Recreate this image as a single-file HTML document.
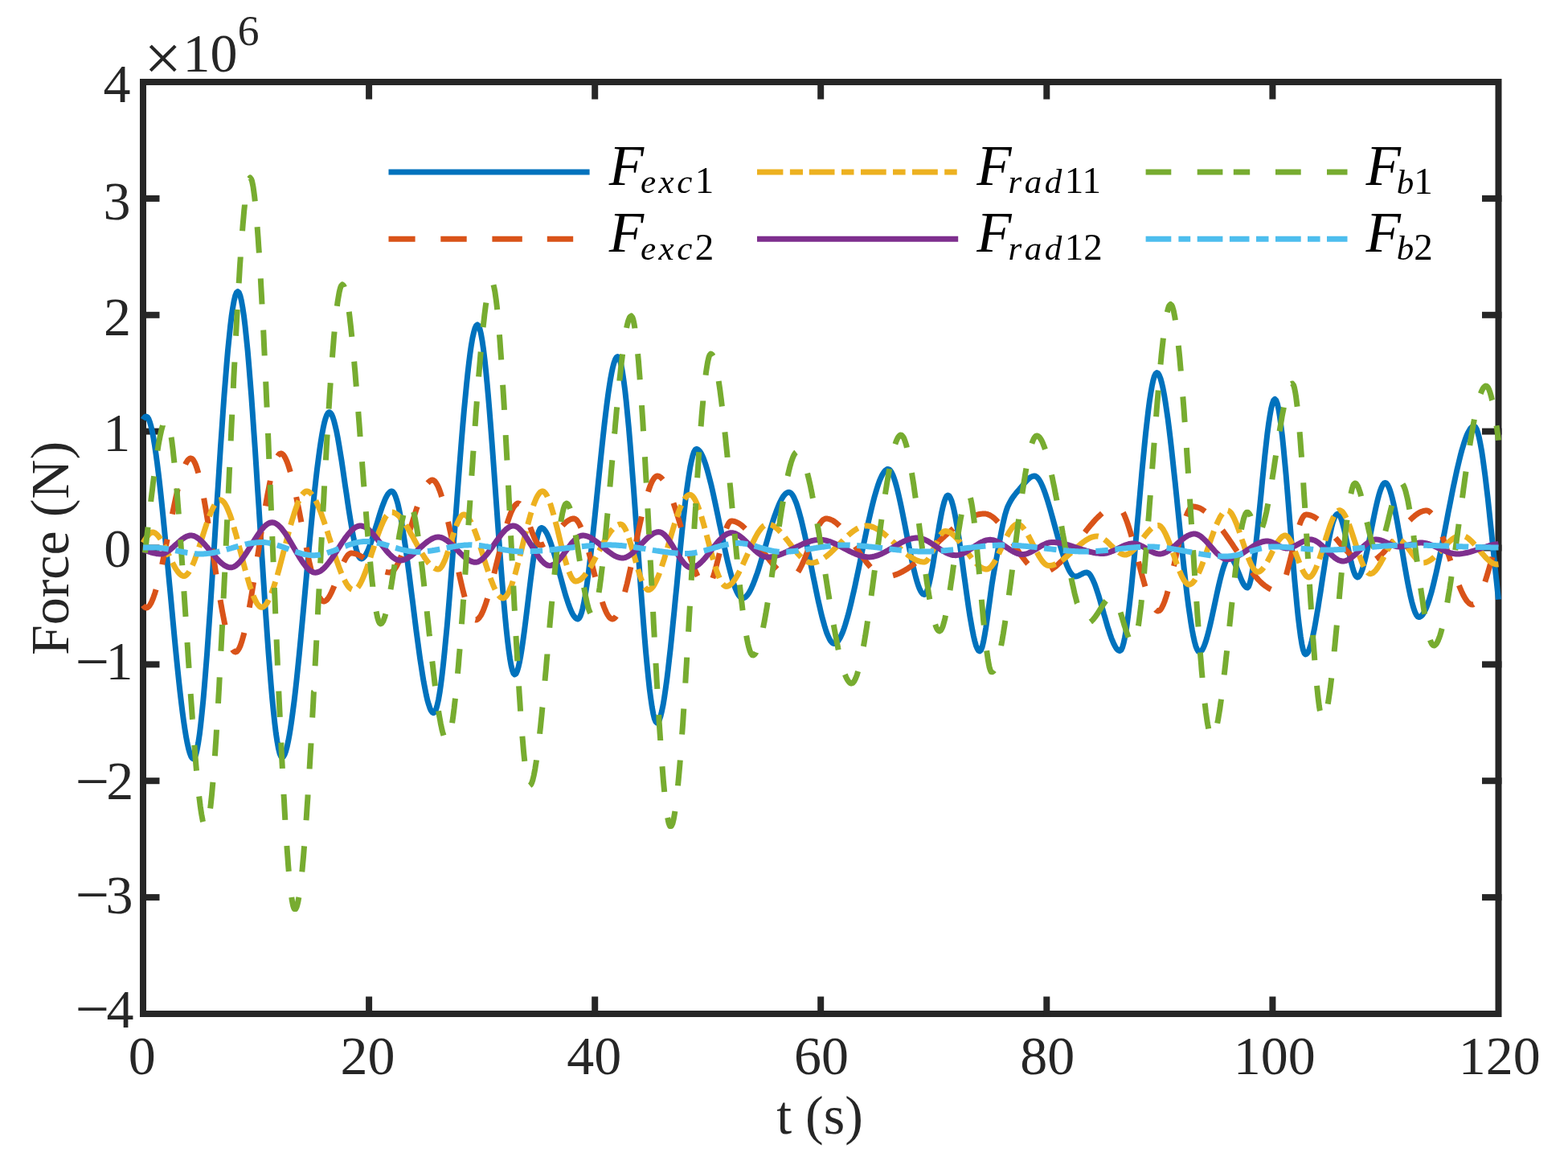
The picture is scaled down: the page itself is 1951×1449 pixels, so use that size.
<!DOCTYPE html>
<html><head><meta charset="utf-8"><title>Force vs time</title>
<style>html,body{margin:0;padding:0;background:#fff;}svg{display:block;}</style>
</head><body><svg width="1951" height="1449" viewBox="0 0 1951 1449"><g stroke="#262626" stroke-width="8" fill="none" stroke-linecap="square"><rect x="178.0" y="102.0" width="1686.5" height="1159.0"/><line x1="459.1" y1="1261.0" x2="459.1" y2="1243.5"/><line x1="459.1" y1="102.0" x2="459.1" y2="119.5"/><line x1="740.2" y1="1261.0" x2="740.2" y2="1243.5"/><line x1="740.2" y1="102.0" x2="740.2" y2="119.5"/><line x1="1021.2" y1="1261.0" x2="1021.2" y2="1243.5"/><line x1="1021.2" y1="102.0" x2="1021.2" y2="119.5"/><line x1="1302.3" y1="1261.0" x2="1302.3" y2="1243.5"/><line x1="1302.3" y1="102.0" x2="1302.3" y2="119.5"/><line x1="1583.4" y1="1261.0" x2="1583.4" y2="1243.5"/><line x1="1583.4" y1="102.0" x2="1583.4" y2="119.5"/><line x1="178.0" y1="246.9" x2="194.5" y2="246.9"/><line x1="1864.5" y1="246.9" x2="1848.0" y2="246.9"/><line x1="178.0" y1="391.8" x2="194.5" y2="391.8"/><line x1="1864.5" y1="391.8" x2="1848.0" y2="391.8"/><line x1="178.0" y1="536.6" x2="194.5" y2="536.6"/><line x1="1864.5" y1="536.6" x2="1848.0" y2="536.6"/><line x1="178.0" y1="681.5" x2="194.5" y2="681.5"/><line x1="1864.5" y1="681.5" x2="1848.0" y2="681.5"/><line x1="178.0" y1="826.4" x2="194.5" y2="826.4"/><line x1="1864.5" y1="826.4" x2="1848.0" y2="826.4"/><line x1="178.0" y1="971.2" x2="194.5" y2="971.2"/><line x1="1864.5" y1="971.2" x2="1848.0" y2="971.2"/><line x1="178.0" y1="1116.1" x2="194.5" y2="1116.1"/><line x1="1864.5" y1="1116.1" x2="1848.0" y2="1116.1"/></g><g fill="none" stroke-width="7" stroke-linejoin="round"><path stroke="#0072BD" d="M178.0 521.8L178.9 520.3 180.4 518.6 182.0 518.0 183.5 518.8 185.0 521.2 186.5 525.2 188.0 530.5 189.5 537.2 191.0 545.1 192.5 554.2 194.0 564.4 195.5 575.6 197.0 587.6 198.5 600.5 200.0 614.1 201.5 628.4 203.0 643.2 204.5 658.5 206.0 674.2 207.5 690.2 209.0 706.4 210.5 722.7 212.1 739.1 213.6 755.4 215.1 771.6 216.6 787.6 218.1 803.3 219.6 818.6 221.1 833.4 222.6 847.7 224.1 861.3 225.6 874.2 227.1 886.2 228.6 897.4 230.1 907.6 231.6 916.7 233.1 924.6 234.6 931.3 236.1 936.6 237.6 940.6 239.1 943.0 240.6 943.8 242.1 942.5 243.7 938.6 245.2 932.4 246.7 923.9 248.3 913.3 249.8 900.7 251.3 886.4 252.9 870.5 254.4 853.0 255.9 834.2 257.5 814.2 259.0 793.1 260.5 771.2 262.1 748.5 263.6 725.2 265.1 701.4 266.7 677.4 268.2 653.2 269.7 629.0 271.3 605.0 272.8 581.2 274.3 557.9 275.9 535.2 277.4 513.3 278.9 492.2 280.5 472.2 282.0 453.4 283.5 435.9 285.1 420.0 286.6 405.7 288.1 393.1 289.7 382.5 291.2 374.0 292.7 367.8 294.3 363.9 295.8 362.6 297.3 363.9 298.9 367.8 300.4 374.0 301.9 382.5 303.5 393.0 305.0 405.5 306.5 419.8 308.1 435.7 309.6 453.1 311.1 471.9 312.7 491.8 314.2 512.8 315.7 534.7 317.3 557.3 318.8 580.5 320.3 604.2 321.9 628.2 323.4 652.3 324.9 676.4 326.5 700.4 328.0 724.1 329.5 747.3 331.1 769.9 332.6 791.8 334.1 812.8 335.7 832.7 337.2 851.5 338.7 868.9 340.3 884.8 341.8 899.1 343.3 911.6 344.9 922.1 346.4 930.6 347.9 936.8 349.5 940.7 351.0 942.0 352.5 941.2 354.0 938.7 355.5 934.8 357.0 929.4 358.5 922.6 360.0 914.6 361.5 905.5 363.0 895.2 364.5 884.0 366.1 871.8 367.6 858.8 369.1 845.1 370.6 830.7 372.1 815.8 373.6 800.3 375.1 784.5 376.6 768.4 378.1 752.1 379.6 735.6 381.1 719.1 382.6 702.6 384.1 686.3 385.6 670.2 387.1 654.4 388.6 638.9 390.1 624.0 391.6 609.6 393.1 595.9 394.6 582.9 396.2 570.7 397.7 559.5 399.2 549.2 400.7 540.1 402.2 532.1 403.7 525.3 405.2 519.9 406.7 516.0 408.2 513.5 409.7 512.7 411.2 513.5 412.8 515.8 414.3 519.4 415.8 524.3 417.3 530.3 418.9 537.3 420.4 545.2 421.9 553.9 423.4 563.1 425.0 572.9 426.5 583.0 428.0 593.4 429.5 603.9 431.1 614.3 432.6 624.7 434.1 634.8 435.7 644.6 437.2 653.8 438.7 662.5 440.2 670.4 441.8 677.4 443.3 683.4 444.8 688.3 446.3 691.9 447.9 694.2 449.4 695.0 450.9 694.6 452.4 693.5 454.0 691.7 455.5 689.2 457.0 686.3 458.5 682.8 460.0 678.9 461.6 674.7 463.1 670.2 464.6 665.4 466.1 660.5 467.6 655.5 469.2 650.5 470.7 645.5 472.2 640.6 473.7 635.8 475.2 631.3 476.8 627.1 478.3 623.2 479.8 619.7 481.3 616.8 482.8 614.3 484.4 612.5 485.9 611.4 487.4 611.0 488.9 611.7 490.5 613.8 492.0 617.1 493.5 621.6 495.1 627.1 496.6 633.7 498.1 641.3 499.7 649.6 501.2 658.7 502.7 668.5 504.3 678.9 505.8 689.8 507.3 701.1 508.9 712.8 510.4 724.7 511.9 736.7 513.5 748.9 515.0 761.1 516.5 773.1 518.0 785.0 519.6 796.7 521.1 808.0 522.6 818.9 524.2 829.3 525.7 839.1 527.2 848.2 528.8 856.5 530.3 864.1 531.8 870.7 533.4 876.2 534.9 880.7 536.4 884.0 538.0 886.1 539.5 886.8 541.0 885.7 542.5 882.5 544.0 877.3 545.6 870.2 547.1 861.4 548.6 851.0 550.1 839.1 551.6 825.9 553.1 811.3 554.6 795.7 556.2 779.1 557.7 761.6 559.2 743.4 560.7 724.5 562.2 705.2 563.7 685.4 565.2 665.5 566.8 645.3 568.3 625.2 569.8 605.3 571.3 585.5 572.8 566.2 574.3 547.3 575.8 529.1 577.3 511.6 578.9 495.0 580.4 479.4 581.9 464.8 583.4 451.6 584.9 439.7 586.4 429.3 587.9 420.5 589.5 413.4 591.0 408.2 592.5 405.0 594.0 403.9 595.5 405.2 597.0 409.1 598.5 415.3 600.0 423.8 601.5 434.2 603.0 446.5 604.5 460.4 606.0 475.9 607.5 492.6 609.0 510.5 610.5 529.4 612.0 549.0 613.5 569.3 615.0 590.0 616.5 610.9 618.0 632.0 619.5 652.9 621.0 673.6 622.5 693.9 624.0 713.5 625.5 732.4 627.0 750.3 628.5 767.0 630.0 782.5 631.5 796.4 633.0 808.7 634.5 819.1 636.0 827.6 637.5 833.8 639.0 837.7 640.5 839.0 642.0 837.9 643.5 834.7 645.0 829.7 646.5 823.1 648.0 815.0 649.5 805.7 651.0 795.3 652.5 784.2 654.0 772.4 655.5 760.2 657.0 747.8 658.5 735.3 660.0 723.1 661.5 711.3 663.0 700.2 664.5 689.8 666.0 680.5 667.5 672.4 669.0 665.8 670.5 660.8 672.0 657.6 673.5 656.5 675.0 656.9 676.5 657.9 678.0 659.7 679.6 662.0 681.1 664.9 682.6 668.3 684.1 672.2 685.6 676.4 687.1 681.0 688.7 685.9 690.2 691.1 691.7 696.5 693.2 702.0 694.7 707.6 696.2 713.2 697.8 718.9 699.3 724.5 700.8 730.0 702.3 735.4 703.8 740.6 705.4 745.5 706.9 750.1 708.4 754.3 709.9 758.2 711.4 761.6 712.9 764.5 714.5 766.8 716.0 768.6 717.5 769.6 719.0 770.0 720.5 769.1 722.0 766.5 723.5 762.4 725.0 756.8 726.5 749.8 728.0 741.6 729.5 732.2 731.0 721.8 732.5 710.4 734.0 698.2 735.5 685.4 737.0 671.9 738.5 657.9 740.0 643.6 741.5 629.0 743.0 614.2 744.5 599.4 746.0 584.6 747.5 570.0 749.0 555.7 750.5 541.7 752.0 528.2 753.5 515.4 755.0 503.2 756.5 491.8 758.0 481.4 759.5 472.0 761.0 463.8 762.5 456.8 764.0 451.2 765.5 447.1 767.0 444.5 768.5 443.6 770.0 444.9 771.6 448.7 773.1 454.9 774.6 463.2 776.1 473.5 777.7 485.6 779.2 499.4 780.7 514.8 782.3 531.4 783.8 549.2 785.3 568.0 786.8 587.7 788.4 608.0 789.9 628.8 791.4 650.0 793.0 671.3 794.5 692.6 796.0 713.8 797.5 734.6 799.1 754.9 800.6 774.6 802.1 793.4 803.6 811.2 805.2 827.8 806.7 843.2 808.2 857.0 809.8 869.1 811.3 879.4 812.8 887.7 814.3 893.9 815.9 897.7 817.4 899.0 818.9 898.0 820.5 895.2 822.0 890.6 823.5 884.4 825.1 876.7 826.6 867.6 828.1 857.2 829.7 845.8 831.2 833.3 832.7 820.0 834.3 806.0 835.8 791.3 837.3 776.1 838.9 760.5 840.4 744.7 842.0 728.8 843.5 712.8 845.0 697.0 846.6 681.4 848.1 666.2 849.6 651.5 851.2 637.5 852.7 624.2 854.2 611.7 855.8 600.3 857.3 589.9 858.8 580.8 860.4 573.1 861.9 566.9 863.4 562.3 865.0 559.5 866.5 558.5 868.0 558.9 869.5 560.0 871.0 561.8 872.6 564.2 874.1 567.3 875.6 570.9 877.1 575.1 878.6 579.7 880.1 584.8 881.6 590.3 883.1 596.1 884.7 602.3 886.2 608.8 887.7 615.5 889.2 622.4 890.7 629.5 892.2 636.7 893.7 643.9 895.2 651.2 896.8 658.6 898.3 665.8 899.8 673.0 901.3 680.1 902.8 687.0 904.3 693.7 905.8 700.2 907.4 706.4 908.9 712.2 910.4 717.7 911.9 722.8 913.4 727.4 914.9 731.6 916.4 735.2 917.9 738.3 919.5 740.7 921.0 742.5 922.5 743.6 924.0 744.0 925.5 743.7 927.0 742.9 928.5 741.7 930.1 739.9 931.6 737.8 933.1 735.2 934.6 732.2 936.1 728.9 937.6 725.3 939.1 721.4 940.6 717.3 942.2 712.9 943.7 708.3 945.2 703.5 946.7 698.6 948.2 693.6 949.7 688.5 951.2 683.3 952.8 678.1 954.3 672.9 955.8 667.7 957.3 662.6 958.8 657.6 960.3 652.7 961.8 647.9 963.3 643.3 964.9 638.9 966.4 634.8 967.9 630.9 969.4 627.3 970.9 624.0 972.4 621.0 973.9 618.4 975.4 616.3 977.0 614.5 978.5 613.3 980.0 612.5 981.5 612.2 983.0 612.6 984.6 613.8 986.1 615.7 987.6 618.3 989.1 621.6 990.7 625.4 992.2 629.9 993.7 634.8 995.2 640.2 996.8 646.0 998.3 652.2 999.8 658.8 1001.4 665.6 1002.9 672.7 1004.4 680.0 1005.9 687.4 1007.5 694.9 1009.0 702.5 1010.5 710.2 1012.0 717.8 1013.6 725.3 1015.1 732.7 1016.6 740.0 1018.1 747.1 1019.7 753.9 1021.2 760.5 1022.7 766.7 1024.3 772.5 1025.8 777.9 1027.3 782.8 1028.8 787.3 1030.4 791.1 1031.9 794.4 1033.4 797.0 1034.9 798.9 1036.5 800.1 1038.0 800.5 1039.5 800.2 1041.0 799.2 1042.6 797.6 1044.1 795.4 1045.6 792.7 1047.1 789.5 1048.7 785.8 1050.2 781.6 1051.7 777.0 1053.2 772.0 1054.8 766.6 1056.3 760.9 1057.8 754.9 1059.3 748.6 1060.8 742.0 1062.4 735.3 1063.9 728.4 1065.4 721.3 1066.9 714.1 1068.5 706.8 1070.0 699.4 1071.5 692.0 1073.0 684.6 1074.5 677.2 1076.1 669.9 1077.6 662.7 1079.1 655.6 1080.6 648.7 1082.2 642.0 1083.7 635.4 1085.2 629.1 1086.7 623.1 1088.2 617.4 1089.8 612.0 1091.3 607.0 1092.8 602.4 1094.3 598.2 1095.9 594.5 1097.4 591.3 1098.9 588.6 1100.4 586.4 1102.0 584.8 1103.5 583.8 1105.0 583.5 1106.5 584.0 1108.0 585.5 1109.5 587.9 1111.0 591.1 1112.5 595.1 1114.0 599.7 1115.5 605.0 1117.0 610.9 1118.5 617.2 1120.0 623.9 1121.5 631.0 1123.0 638.4 1124.5 646.0 1126.0 653.7 1127.5 661.5 1129.0 669.3 1130.5 677.0 1132.0 684.6 1133.5 692.0 1135.0 699.1 1136.5 705.8 1138.0 712.1 1139.5 718.0 1141.0 723.3 1142.5 727.9 1144.0 731.9 1145.5 735.1 1147.0 737.5 1148.5 739.0 1150.0 739.5 1151.6 738.5 1153.1 735.7 1154.7 731.2 1156.2 725.4 1157.8 718.3 1159.3 710.3 1160.9 701.6 1162.4 692.3 1164.0 682.6 1165.5 672.9 1167.1 663.2 1168.6 653.9 1170.2 645.2 1171.7 637.2 1173.3 630.1 1174.8 624.3 1176.4 619.8 1177.9 617.0 1179.5 616.0 1181.0 616.8 1182.5 619.3 1184.1 623.2 1185.6 628.4 1187.1 634.8 1188.6 642.2 1190.1 650.6 1191.7 659.8 1193.2 669.6 1194.7 680.0 1196.2 690.8 1197.7 701.8 1199.2 713.0 1200.8 724.2 1202.3 735.2 1203.8 746.0 1205.3 756.4 1206.8 766.2 1208.4 775.4 1209.9 783.8 1211.4 791.2 1212.9 797.6 1214.4 802.8 1216.0 806.7 1217.5 809.2 1219.0 810.0 1220.5 808.6 1222.1 804.6 1223.6 798.4 1225.1 790.4 1226.7 781.0 1228.2 770.6 1229.7 759.5 1231.3 748.1 1232.8 736.9 1234.3 726.1 1235.9 716.3 1237.4 707.7 1239.0 699.1 1240.7 690.1 1242.3 681.0 1244.0 672.0 1245.6 663.2 1247.2 654.8 1248.9 647.2 1250.5 640.4 1252.2 634.7 1253.8 630.3 1255.4 626.9 1257.0 623.9 1258.5 621.2 1260.1 618.8 1261.7 616.6 1263.3 614.5 1264.8 612.6 1266.4 610.8 1268.0 609.0 1269.6 607.2 1271.2 605.2 1272.8 603.3 1274.3 601.4 1275.9 599.5 1277.5 597.8 1279.1 596.2 1280.7 594.8 1282.2 593.6 1283.8 592.8 1285.4 592.2 1287.0 592.0 1288.5 592.3 1290.0 593.2 1291.5 594.7 1293.0 596.8 1294.5 599.3 1296.0 602.3 1297.5 605.7 1299.0 609.5 1300.5 613.6 1302.0 618.1 1303.5 622.8 1305.0 627.7 1306.5 632.8 1308.0 638.1 1309.5 643.5 1311.0 649.0 1312.5 654.5 1314.0 660.0 1315.5 665.5 1317.0 670.9 1318.5 676.2 1320.0 681.3 1321.5 686.2 1323.0 690.9 1324.5 695.4 1326.0 699.5 1327.5 703.3 1329.0 706.7 1330.5 709.7 1332.0 712.2 1333.5 714.3 1335.0 715.8 1336.5 716.7 1338.0 717.0 1339.6 716.8 1341.1 716.4 1342.7 715.7 1344.2 714.9 1345.8 714.1 1347.3 713.3 1348.9 712.6 1350.4 712.2 1352.0 712.0 1353.5 712.4 1355.1 713.5 1356.6 715.3 1358.1 717.8 1359.7 720.8 1361.2 724.3 1362.8 728.3 1364.3 732.6 1365.8 737.3 1367.4 742.2 1368.9 747.4 1370.4 752.7 1372.0 758.0 1373.5 763.5 1375.1 768.8 1376.6 774.1 1378.1 779.3 1379.7 784.2 1381.2 788.9 1382.7 793.2 1384.3 797.2 1385.8 800.7 1387.4 803.7 1388.9 806.2 1390.4 808.0 1392.0 809.1 1393.5 809.5 1395.0 808.4 1396.6 805.1 1398.1 799.8 1399.6 792.7 1401.2 783.9 1402.7 773.5 1404.2 761.8 1405.7 748.8 1407.3 734.8 1408.8 719.8 1410.3 704.1 1411.9 687.7 1413.4 670.9 1414.9 653.8 1416.5 636.5 1418.0 619.3 1419.5 602.2 1421.0 585.4 1422.6 569.0 1424.1 553.3 1425.6 538.3 1427.2 524.3 1428.7 511.3 1430.2 499.6 1431.8 489.2 1433.3 480.4 1434.8 473.3 1436.3 468.0 1437.9 464.7 1439.4 463.6 1440.9 464.4 1442.4 466.9 1444.0 470.8 1445.5 476.2 1447.0 482.8 1448.5 490.7 1450.0 499.7 1451.5 509.8 1453.1 520.7 1454.6 532.5 1456.1 545.0 1457.6 558.1 1459.1 571.8 1460.6 585.9 1462.2 600.3 1463.7 615.0 1465.2 629.9 1466.7 644.7 1468.2 659.6 1469.7 674.3 1471.3 688.7 1472.8 702.8 1474.3 716.5 1475.8 729.6 1477.3 742.1 1478.8 753.9 1480.4 764.8 1481.9 774.9 1483.4 783.9 1484.9 791.8 1486.4 798.4 1487.9 803.8 1489.5 807.7 1491.0 810.2 1492.5 811.0 1494.0 810.4 1495.5 808.9 1497.0 806.3 1498.5 802.9 1500.0 798.7 1501.5 793.9 1503.0 788.4 1504.5 782.5 1506.0 776.1 1507.5 769.5 1509.0 762.6 1510.5 755.5 1512.0 748.5 1513.5 741.4 1515.0 734.5 1516.5 727.9 1518.0 721.5 1519.5 715.6 1521.0 710.1 1522.5 705.3 1524.0 701.1 1525.5 697.7 1527.0 695.1 1528.5 693.6 1530.0 693.0 1531.6 693.6 1533.1 695.1 1534.7 697.5 1536.3 700.5 1537.9 704.1 1539.4 708.0 1541.0 712.0 1542.6 716.0 1544.1 719.9 1545.7 723.5 1547.3 726.5 1548.9 728.9 1550.4 730.4 1552.0 731.0 1553.6 729.6 1555.1 725.5 1556.7 719.1 1558.2 710.6 1559.8 700.2 1561.4 688.2 1562.9 674.9 1564.5 660.5 1566.0 645.3 1567.6 629.7 1569.2 613.7 1570.7 597.7 1572.3 582.1 1573.8 566.9 1575.4 552.5 1576.9 539.2 1578.5 527.2 1580.1 516.8 1581.6 508.3 1583.2 501.9 1584.7 497.8 1586.3 496.4 1587.8 497.9 1589.4 502.2 1590.9 509.0 1592.4 518.2 1593.9 529.4 1595.5 542.5 1597.0 557.2 1598.5 573.2 1600.1 590.2 1601.6 608.2 1603.1 626.8 1604.6 645.7 1606.2 664.7 1607.7 683.6 1609.2 702.2 1610.7 720.2 1612.3 737.2 1613.8 753.2 1615.3 767.9 1616.9 781.0 1618.4 792.2 1619.9 801.4 1621.4 808.2 1623.0 812.5 1624.5 814.0 1626.0 813.2 1627.6 811.1 1629.1 807.5 1630.7 802.8 1632.2 797.1 1633.7 790.3 1635.3 782.8 1636.8 774.5 1638.3 765.6 1639.9 756.3 1641.4 746.5 1643.0 736.6 1644.5 726.5 1646.0 716.4 1647.6 706.5 1649.1 696.7 1650.7 687.4 1652.2 678.5 1653.7 670.2 1655.3 662.7 1656.8 655.9 1658.3 650.2 1659.9 645.5 1661.4 641.9 1663.0 639.8 1664.5 639.0 1666.0 639.9 1667.6 642.4 1669.1 646.3 1670.6 651.3 1672.2 657.3 1673.7 664.0 1675.2 671.1 1676.8 678.5 1678.3 685.9 1679.8 693.0 1681.3 699.7 1682.9 705.7 1684.4 710.7 1685.9 714.6 1687.5 717.1 1689.0 718.0 1690.5 717.4 1692.0 715.5 1693.5 712.5 1695.0 708.6 1696.5 703.8 1698.0 698.2 1699.5 692.0 1701.0 685.2 1702.5 678.1 1704.0 670.7 1705.5 663.1 1707.0 655.4 1708.5 647.8 1710.0 640.4 1711.5 633.3 1713.0 626.5 1714.5 620.3 1716.0 614.7 1717.5 609.9 1719.0 606.0 1720.5 603.0 1722.0 601.1 1723.5 600.5 1725.0 601.1 1726.5 602.9 1728.0 605.8 1729.5 609.8 1731.0 614.6 1732.5 620.2 1734.0 626.6 1735.5 633.6 1737.0 641.2 1738.5 649.2 1740.0 657.6 1741.5 666.2 1743.0 675.1 1744.5 684.0 1746.0 692.9 1747.5 701.8 1749.0 710.4 1750.5 718.8 1752.0 726.8 1753.5 734.4 1755.0 741.4 1756.5 747.8 1758.0 753.4 1759.5 758.2 1761.0 762.2 1762.5 765.1 1764.0 766.9 1765.5 767.5 1767.0 767.2 1768.6 766.1 1770.1 764.5 1771.6 762.2 1773.1 759.4 1774.7 756.0 1776.2 752.0 1777.7 747.7 1779.2 742.8 1780.8 737.5 1782.3 731.9 1783.8 725.8 1785.3 719.5 1786.9 712.8 1788.4 705.9 1789.9 698.8 1791.5 691.4 1793.0 683.9 1794.5 676.2 1796.0 668.5 1797.6 660.6 1799.1 652.7 1800.6 644.8 1802.1 636.9 1803.7 629.0 1805.2 621.3 1806.7 613.6 1808.2 606.1 1809.8 598.7 1811.3 591.6 1812.8 584.7 1814.4 578.0 1815.9 571.7 1817.4 565.6 1818.9 560.0 1820.5 554.7 1822.0 549.8 1823.5 545.5 1825.0 541.5 1826.6 538.1 1828.1 535.3 1829.6 533.0 1831.1 531.4 1832.7 530.3 1834.2 530.0 1835.7 530.9 1837.3 533.7 1838.8 538.1 1840.4 544.2 1841.9 551.6 1843.5 560.3 1845.0 570.3 1846.5 581.3 1848.1 593.2 1849.6 606.0 1851.2 619.4 1852.7 633.4 1854.2 647.8 1855.8 662.6 1857.3 677.5 1858.9 692.5 1860.4 707.4 1862.0 722.2 1863.5 736.6 1864.5 745.7"/><path stroke="#D95319" stroke-dasharray="32 32" d="M178.0 752.8L178.9 754.0 180.4 755.5 182.0 756.0 183.5 755.6 185.1 754.3 186.6 752.3 188.2 749.6 189.7 746.2 191.2 742.2 192.8 737.6 194.3 732.5 195.8 726.9 197.4 720.9 198.9 714.5 200.5 707.8 202.0 700.8 203.5 693.5 205.1 686.0 206.6 678.4 208.2 670.7 209.7 663.0 211.2 655.3 212.8 647.6 214.3 640.0 215.9 632.5 217.4 625.2 218.9 618.2 220.5 611.5 222.0 605.1 223.6 599.1 225.1 593.5 226.6 588.4 228.2 583.8 229.7 579.8 231.2 576.4 232.8 573.7 234.3 571.7 235.9 570.4 237.4 570.0 238.9 570.5 240.4 572.0 241.9 574.5 243.4 577.8 244.9 582.0 246.4 587.0 247.9 592.6 249.4 598.9 250.9 605.8 252.4 613.3 253.9 621.2 255.4 629.6 256.9 638.3 258.4 647.4 259.9 656.7 261.4 666.2 262.9 675.9 264.4 685.6 266.0 695.4 267.5 705.1 269.0 714.8 270.5 724.3 272.0 733.6 273.5 742.7 275.0 751.4 276.5 759.8 278.0 767.7 279.5 775.2 281.0 782.1 282.5 788.4 284.0 794.0 285.5 799.0 287.0 803.2 288.5 806.5 290.0 809.0 291.5 810.5 293.0 811.0 294.5 810.5 296.0 808.9 297.6 806.4 299.1 803.0 300.6 798.7 302.1 793.6 303.7 787.8 305.2 781.4 306.7 774.3 308.2 766.6 309.8 758.5 311.3 749.9 312.8 741.0 314.3 731.7 315.9 722.1 317.4 712.4 318.9 702.5 320.4 692.5 322.0 682.5 323.5 672.5 325.0 662.6 326.5 652.9 328.1 643.3 329.6 634.0 331.1 625.1 332.6 616.5 334.2 608.4 335.7 600.7 337.2 593.6 338.7 587.2 340.3 581.4 341.8 576.3 343.3 572.0 344.8 568.6 346.4 566.1 347.9 564.5 349.4 564.0 350.9 564.4 352.5 565.7 354.0 567.8 355.5 570.7 357.1 574.2 358.6 578.4 360.1 583.1 361.7 588.4 363.2 594.2 364.7 600.5 366.2 607.1 367.8 614.1 369.3 621.3 370.8 628.8 372.4 636.4 373.9 644.2 375.4 652.1 377.0 659.9 378.5 667.8 380.0 675.6 381.6 683.2 383.1 690.7 384.6 697.9 386.2 704.9 387.7 711.5 389.2 717.8 390.7 723.6 392.3 728.9 393.8 733.6 395.3 737.8 396.9 741.3 398.4 744.2 399.9 746.3 401.5 747.6 403.0 748.0 404.5 747.6 406.1 746.6 407.6 745.0 409.2 742.8 410.7 740.1 412.3 737.0 413.8 733.6 415.4 730.0 416.9 726.1 418.5 722.1 420.0 718.0 421.5 713.9 423.1 709.9 424.6 706.0 426.2 702.4 427.7 699.0 429.3 695.9 430.8 693.2 432.4 691.0 433.9 689.4 435.5 688.4 437.0 688.0 438.5 688.1 440.0 688.3 441.5 688.6 443.0 689.0 444.5 689.6 446.0 690.2 447.5 690.9 449.0 691.8 450.5 692.6 452.0 693.6 453.5 694.6 455.0 695.6 456.5 696.7 458.0 697.8 459.5 698.9 461.0 700.0 462.5 701.1 464.0 702.2 465.5 703.3 467.0 704.4 468.5 705.4 470.0 706.4 471.5 707.4 473.0 708.2 474.5 709.1 476.0 709.8 477.5 710.4 479.0 711.0 480.5 711.4 482.0 711.7 483.5 711.9 485.0 712.0 486.5 711.7 488.0 710.9 489.5 709.6 491.1 707.8 492.6 705.6 494.1 703.0 495.6 700.0 497.1 696.7 498.6 693.1 500.1 689.2 501.7 685.1 503.2 680.7 504.7 676.2 506.2 671.5 507.7 666.7 509.2 661.9 510.7 657.0 512.3 652.0 513.8 647.1 515.3 642.3 516.8 637.5 518.3 632.8 519.8 628.3 521.3 623.9 522.9 619.8 524.4 615.9 525.9 612.3 527.4 609.0 528.9 606.0 530.4 603.4 531.9 601.2 533.5 599.4 535.0 598.1 536.5 597.3 538.0 597.0 539.5 597.4 541.0 598.6 542.5 600.4 544.0 603.0 545.5 606.1 547.0 609.9 548.5 614.2 550.0 619.0 551.5 624.2 553.0 629.8 554.5 635.8 556.0 642.1 557.5 648.7 559.0 655.5 560.5 662.5 562.0 669.6 563.5 676.8 565.0 684.0 566.5 691.2 568.0 698.4 569.5 705.5 571.0 712.5 572.5 719.3 574.0 725.9 575.5 732.2 577.0 738.2 578.5 743.8 580.0 749.0 581.5 753.8 583.0 758.1 584.5 761.9 586.0 765.0 587.5 767.6 589.0 769.4 590.5 770.6 592.0 771.0 593.5 770.7 595.0 769.6 596.5 768.0 598.1 765.8 599.6 763.0 601.1 759.7 602.6 755.9 604.1 751.7 605.6 747.2 607.1 742.3 608.7 737.0 610.2 731.6 611.7 725.8 613.2 720.0 614.7 713.9 616.2 707.8 617.7 701.6 619.3 695.4 620.8 689.2 622.3 683.1 623.8 677.0 625.3 671.2 626.8 665.4 628.3 660.0 629.9 654.7 631.4 649.8 632.9 645.3 634.4 641.1 635.9 637.3 637.4 634.0 638.9 631.2 640.5 629.0 642.0 627.4 643.5 626.3 645.0 626.0 646.5 626.5 648.0 627.8 649.5 629.9 651.0 632.6 652.5 635.8 654.0 639.5 655.5 643.5 657.0 647.7 658.5 652.0 660.0 656.3 661.5 660.5 663.0 664.5 664.5 668.2 666.0 671.4 667.5 674.1 669.0 676.2 670.5 677.5 672.0 678.0 673.5 677.9 675.0 677.5 676.5 676.9 678.0 676.2 679.5 675.2 681.0 674.1 682.5 672.8 684.0 671.5 685.5 670.0 687.0 668.4 688.5 666.7 690.0 665.0 691.5 663.3 693.0 661.5 694.5 659.7 696.0 658.0 697.5 656.3 699.0 654.6 700.5 653.0 702.0 651.5 703.5 650.2 705.0 648.9 706.5 647.8 708.0 646.8 709.5 646.1 711.0 645.5 712.5 645.1 714.0 645.0 715.5 645.4 717.0 646.4 718.5 648.1 720.0 650.4 721.5 653.2 723.0 656.5 724.5 660.3 726.0 664.5 727.5 669.1 729.0 674.0 730.5 679.2 732.0 684.6 733.5 690.1 735.0 695.8 736.5 701.6 738.0 707.5 739.5 713.4 741.0 719.2 742.5 724.9 744.0 730.4 745.5 735.8 747.0 741.0 748.5 745.9 750.0 750.5 751.5 754.7 753.0 758.5 754.5 761.8 756.0 764.6 757.5 766.9 759.0 768.6 760.5 769.6 762.0 770.0 763.5 769.6 765.0 768.5 766.5 766.7 768.1 764.2 769.6 761.1 771.1 757.5 772.6 753.3 774.1 748.6 775.6 743.5 777.1 738.0 778.6 732.2 780.2 726.0 781.7 719.5 783.2 712.8 784.7 706.0 786.2 698.9 787.7 691.8 789.2 684.6 790.8 677.4 792.3 670.2 793.8 663.1 795.3 656.0 796.8 649.2 798.3 642.5 799.8 636.0 801.4 629.8 802.9 624.0 804.4 618.5 805.9 613.4 807.4 608.7 808.9 604.5 810.4 600.9 811.9 597.8 813.5 595.3 815.0 593.5 816.5 592.4 818.0 592.0 819.5 592.2 821.0 593.0 822.5 594.1 824.0 595.7 825.6 597.7 827.1 600.0 828.6 602.7 830.1 605.7 831.6 609.0 833.1 612.6 834.6 616.5 836.1 620.5 837.7 624.8 839.2 629.3 840.7 633.9 842.2 638.6 843.7 643.5 845.2 648.4 846.7 653.4 848.2 658.5 849.8 663.5 851.3 668.6 852.8 673.6 854.3 678.5 855.8 683.4 857.3 688.1 858.8 692.7 860.3 697.2 861.9 701.5 863.4 705.5 864.9 709.4 866.4 713.0 867.9 716.3 869.4 719.3 870.9 722.0 872.4 724.3 874.0 726.3 875.5 727.9 877.0 729.0 878.5 729.8 880.0 730.0 881.5 729.4 883.0 727.7 884.5 725.0 886.0 721.5 887.5 717.2 889.0 712.3 890.5 706.9 892.0 701.1 893.5 695.1 895.0 689.0 896.5 682.9 898.0 676.9 899.5 671.1 901.0 665.7 902.5 660.8 904.0 656.5 905.5 653.0 907.0 650.3 908.5 648.6 910.0 648.0 911.5 648.1 913.0 648.3 914.5 648.7 916.0 649.3 917.5 650.0 919.0 650.8 920.5 651.7 922.0 652.8 923.5 654.0 925.0 655.3 926.5 656.7 928.0 658.2 929.5 659.7 931.0 661.4 932.5 663.1 934.0 664.9 935.5 666.8 937.0 668.7 938.5 670.6 940.0 672.6 941.5 674.7 943.0 676.7 944.5 678.8 946.0 680.9 947.5 683.0 949.0 685.1 950.5 687.2 952.0 689.3 953.5 691.3 955.0 693.4 956.5 695.4 958.0 697.3 959.5 699.2 961.0 701.1 962.5 702.9 964.0 704.6 965.5 706.3 967.0 707.8 968.5 709.3 970.0 710.7 971.5 712.0 973.0 713.2 974.5 714.3 976.0 715.2 977.5 716.0 979.0 716.7 980.5 717.3 982.0 717.7 983.5 717.9 985.0 718.0 986.5 717.7 988.1 716.9 989.6 715.7 991.1 714.0 992.7 711.8 994.2 709.4 995.8 706.6 997.3 703.5 998.8 700.2 1000.4 696.7 1001.9 693.1 1003.4 689.3 1005.0 685.4 1006.5 681.5 1008.0 677.6 1009.6 673.7 1011.1 669.9 1012.6 666.3 1014.2 662.8 1015.7 659.5 1017.2 656.4 1018.8 653.6 1020.3 651.2 1021.9 649.0 1023.4 647.3 1024.9 646.1 1026.5 645.3 1028.0 645.0 1029.5 645.1 1031.0 645.4 1032.5 645.8 1034.0 646.4 1035.6 647.1 1037.1 648.0 1038.6 649.0 1040.1 650.1 1041.6 651.4 1043.1 652.8 1044.6 654.3 1046.1 655.8 1047.6 657.5 1049.1 659.3 1050.7 661.1 1052.2 663.0 1053.7 665.0 1055.2 667.0 1056.7 669.1 1058.2 671.2 1059.7 673.3 1061.2 675.5 1062.7 677.7 1064.2 679.9 1065.8 682.1 1067.3 684.3 1068.8 686.5 1070.3 688.7 1071.8 690.8 1073.3 692.9 1074.8 695.0 1076.3 697.0 1077.8 699.0 1079.3 700.9 1080.9 702.7 1082.4 704.5 1083.9 706.2 1085.4 707.7 1086.9 709.2 1088.4 710.6 1089.9 711.9 1091.4 713.0 1092.9 714.0 1094.4 714.9 1096.0 715.6 1097.5 716.2 1099.0 716.6 1100.5 716.9 1102.0 717.0 1103.5 717.0 1105.0 716.9 1106.5 716.7 1108.0 716.5 1109.5 716.2 1111.0 715.8 1112.5 715.4 1114.0 714.9 1115.5 714.4 1117.0 713.8 1118.5 713.2 1120.0 712.5 1121.5 711.7 1123.0 711.0 1124.5 710.1 1126.0 709.2 1127.5 708.3 1129.0 707.4 1130.5 706.4 1132.0 705.3 1133.5 704.3 1135.0 703.2 1136.5 702.0 1138.0 700.9 1139.5 699.7 1141.0 698.4 1142.5 697.2 1144.0 695.9 1145.5 694.6 1147.0 693.3 1148.5 692.0 1150.0 690.6 1151.5 689.3 1153.0 687.9 1154.5 686.5 1156.0 685.1 1157.5 683.7 1159.0 682.3 1160.5 680.9 1162.0 679.4 1163.5 678.0 1165.0 676.6 1166.5 675.1 1168.0 673.7 1169.5 672.3 1171.0 670.9 1172.5 669.5 1174.0 668.1 1175.5 666.7 1177.0 665.4 1178.5 664.0 1180.0 662.7 1181.5 661.4 1183.0 660.1 1184.5 658.8 1186.0 657.6 1187.5 656.3 1189.0 655.1 1190.5 654.0 1192.0 652.8 1193.5 651.7 1195.0 650.7 1196.5 649.6 1198.0 648.6 1199.5 647.7 1201.0 646.8 1202.5 645.9 1204.0 645.0 1205.5 644.3 1207.0 643.5 1208.5 642.8 1210.0 642.2 1211.5 641.6 1213.0 641.1 1214.5 640.6 1216.0 640.2 1217.5 639.8 1219.0 639.5 1220.5 639.3 1222.0 639.1 1223.5 639.0 1225.0 639.0 1226.5 639.1 1228.0 639.4 1229.5 639.9 1231.0 640.5 1232.6 641.3 1234.1 642.3 1235.6 643.4 1237.1 644.6 1238.6 646.0 1240.1 647.5 1241.6 649.1 1243.1 650.8 1244.6 652.7 1246.1 654.6 1247.7 656.6 1249.2 658.6 1250.7 660.7 1252.2 662.9 1253.7 665.1 1255.2 667.4 1256.7 669.7 1258.2 672.0 1259.7 674.3 1261.3 676.7 1262.8 679.0 1264.3 681.3 1265.8 683.6 1267.3 685.9 1268.8 688.1 1270.3 690.3 1271.8 692.4 1273.3 694.4 1274.9 696.4 1276.4 698.3 1277.9 700.2 1279.4 701.9 1280.9 703.5 1282.4 705.0 1283.9 706.4 1285.4 707.6 1286.9 708.7 1288.4 709.7 1290.0 710.5 1291.5 711.1 1293.0 711.6 1294.5 711.9 1296.0 712.0 1297.5 711.9 1299.0 711.7 1300.5 711.4 1302.1 711.0 1303.6 710.5 1305.1 709.8 1306.6 709.1 1308.1 708.3 1309.6 707.3 1311.2 706.3 1312.7 705.2 1314.2 704.0 1315.7 702.7 1317.2 701.3 1318.7 699.9 1320.3 698.4 1321.8 696.9 1323.3 695.3 1324.8 693.6 1326.3 691.9 1327.8 690.2 1329.4 688.4 1330.9 686.5 1332.4 684.7 1333.9 682.8 1335.4 680.8 1336.9 678.9 1338.5 676.9 1340.0 675.0 1341.5 673.0 1343.0 671.0 1344.5 669.0 1346.0 667.0 1347.5 665.1 1349.1 663.1 1350.6 661.2 1352.1 659.2 1353.6 657.3 1355.1 655.5 1356.6 653.6 1358.2 651.8 1359.7 650.1 1361.2 648.4 1362.7 646.7 1364.2 645.1 1365.7 643.6 1367.3 642.1 1368.8 640.7 1370.3 639.3 1371.8 638.0 1373.3 636.8 1374.8 635.7 1376.4 634.7 1377.9 633.7 1379.4 632.9 1380.9 632.2 1382.4 631.5 1383.9 631.0 1385.5 630.6 1387.0 630.3 1388.5 630.1 1390.0 630.0 1391.5 630.3 1393.0 631.3 1394.5 632.9 1396.0 635.0 1397.5 637.6 1399.0 640.7 1400.5 644.3 1402.0 648.2 1403.5 652.5 1405.0 657.1 1406.5 662.0 1408.0 667.2 1409.5 672.5 1411.0 678.0 1412.5 683.6 1414.0 689.3 1415.5 695.0 1417.0 700.7 1418.5 706.4 1420.0 712.0 1421.5 717.5 1423.0 722.8 1424.5 728.0 1426.0 732.9 1427.5 737.5 1429.0 741.8 1430.5 745.7 1432.0 749.3 1433.5 752.4 1435.0 755.0 1436.5 757.1 1438.0 758.7 1439.5 759.7 1441.0 760.0 1442.5 759.5 1444.1 758.1 1445.6 755.8 1447.1 752.8 1448.7 749.0 1450.2 744.7 1451.8 739.7 1453.3 734.2 1454.8 728.3 1456.4 722.1 1457.9 715.6 1459.4 708.8 1461.0 702.0 1462.5 695.0 1464.0 688.0 1465.6 681.2 1467.1 674.4 1468.6 667.9 1470.2 661.7 1471.7 655.8 1473.2 650.3 1474.8 645.3 1476.3 641.0 1477.9 637.2 1479.4 634.2 1480.9 631.9 1482.5 630.5 1484.0 630.0 1485.5 630.1 1487.0 630.3 1488.5 630.6 1490.1 631.0 1491.6 631.5 1493.1 632.2 1494.6 632.9 1496.1 633.8 1497.6 634.8 1499.1 635.8 1500.7 637.0 1502.2 638.2 1503.7 639.5 1505.2 640.9 1506.7 642.4 1508.2 643.9 1509.7 645.6 1511.3 647.3 1512.8 649.0 1514.3 650.8 1515.8 652.7 1517.3 654.6 1518.8 656.6 1520.3 658.6 1521.9 660.6 1523.4 662.7 1524.9 664.8 1526.4 667.0 1527.9 669.1 1529.4 671.3 1530.9 673.5 1532.5 675.8 1534.0 678.0 1535.5 680.3 1537.0 682.5 1538.5 684.7 1540.0 687.0 1541.5 689.2 1543.1 691.5 1544.6 693.7 1546.1 695.9 1547.6 698.0 1549.1 700.2 1550.6 702.3 1552.1 704.4 1553.7 706.4 1555.2 708.4 1556.7 710.4 1558.2 712.3 1559.7 714.2 1561.2 716.0 1562.7 717.7 1564.3 719.4 1565.8 721.1 1567.3 722.6 1568.8 724.1 1570.3 725.5 1571.8 726.8 1573.3 728.0 1574.9 729.2 1576.4 730.2 1577.9 731.2 1579.4 732.1 1580.9 732.8 1582.4 733.5 1583.9 734.0 1585.5 734.4 1587.0 734.7 1588.5 734.9 1590.0 735.0 1591.5 734.5 1593.0 733.0 1594.6 730.6 1596.1 727.4 1597.6 723.5 1599.1 719.0 1600.7 714.0 1602.2 708.5 1603.7 702.7 1605.2 696.7 1606.7 690.6 1608.3 684.4 1609.8 678.3 1611.3 672.3 1612.8 666.5 1614.3 661.0 1615.9 656.0 1617.4 651.5 1618.9 647.6 1620.4 644.4 1622.0 642.0 1623.5 640.5 1625.0 640.0 1626.5 640.1 1628.0 640.3 1629.5 640.6 1631.0 641.1 1632.5 641.7 1634.0 642.4 1635.5 643.2 1637.0 644.1 1638.5 645.1 1640.0 646.2 1641.5 647.4 1643.0 648.7 1644.5 650.1 1646.0 651.5 1647.5 653.0 1649.0 654.5 1650.5 656.1 1652.0 657.7 1653.5 659.4 1655.0 661.1 1656.5 662.9 1658.0 664.6 1659.5 666.4 1661.0 668.2 1662.5 670.0 1664.0 671.8 1665.5 673.6 1667.0 675.4 1668.5 677.1 1670.0 678.9 1671.5 680.6 1673.0 682.3 1674.5 683.9 1676.0 685.5 1677.5 687.0 1679.0 688.5 1680.5 689.9 1682.0 691.3 1683.5 692.6 1685.0 693.8 1686.5 694.9 1688.0 695.9 1689.5 696.8 1691.0 697.6 1692.5 698.3 1694.0 698.9 1695.5 699.4 1697.0 699.7 1698.5 699.9 1700.0 700.0 1701.5 699.9 1703.0 699.7 1704.5 699.3 1706.0 698.8 1707.5 698.2 1709.0 697.4 1710.5 696.5 1712.0 695.5 1713.5 694.4 1715.0 693.2 1716.5 691.9 1718.0 690.6 1719.5 689.1 1721.0 687.6 1722.5 686.0 1724.0 684.3 1725.5 682.6 1727.0 680.8 1728.5 679.0 1730.0 677.1 1731.5 675.2 1733.0 673.3 1734.5 671.4 1736.0 669.4 1737.5 667.5 1739.0 665.6 1740.5 663.6 1742.0 661.7 1743.5 659.8 1745.0 657.9 1746.5 656.0 1748.0 654.2 1749.5 652.4 1751.0 650.7 1752.5 649.0 1754.0 647.4 1755.5 645.9 1757.0 644.4 1758.5 643.1 1760.0 641.8 1761.5 640.6 1763.0 639.5 1764.5 638.5 1766.0 637.6 1767.5 636.8 1769.0 636.2 1770.5 635.7 1772.0 635.3 1773.5 635.1 1775.0 635.0 1776.5 635.2 1778.0 635.9 1779.5 637.1 1781.0 638.6 1782.5 640.5 1784.0 642.8 1785.5 645.4 1787.0 648.4 1788.5 651.6 1790.0 655.0 1791.5 658.7 1793.0 662.6 1794.5 666.7 1796.0 670.9 1797.5 675.3 1799.0 679.8 1800.5 684.3 1802.0 688.9 1803.5 693.5 1805.0 698.1 1806.5 702.7 1808.0 707.2 1809.5 711.7 1811.0 716.1 1812.5 720.3 1814.0 724.4 1815.5 728.3 1817.0 732.0 1818.5 735.4 1820.0 738.6 1821.5 741.6 1823.0 744.2 1824.5 746.5 1826.0 748.4 1827.5 749.9 1829.0 751.1 1830.5 751.8 1832.0 752.0 1833.5 751.7 1835.0 750.7 1836.5 749.2 1838.0 747.2 1839.5 744.7 1841.0 741.7 1842.5 738.3 1844.0 734.5 1845.5 730.4 1847.0 726.0 1848.5 721.4 1850.0 716.6 1851.5 711.6 1853.0 706.4 1854.5 701.2 1856.0 696.0 1857.5 690.8 1859.0 685.6 1860.5 680.4 1862.0 675.4 1863.5 670.6 1864.5 667.5"/><path stroke="#EDB120" stroke-dasharray="32 8.5 15.5 8.5" d="M178.0 675.2L179.1 673.4 180.6 670.9 182.2 668.5 183.8 666.4 185.3 664.6 186.9 663.2 188.4 662.3 190.0 662.0 191.6 662.3 193.1 663.0 194.7 664.2 196.2 665.7 197.8 667.7 199.3 669.9 200.9 672.4 202.4 675.2 204.0 678.1 205.5 681.2 207.1 684.4 208.6 687.6 210.2 690.9 211.7 694.1 213.3 697.3 214.8 700.4 216.4 703.3 217.9 706.1 219.5 708.6 221.0 710.8 222.6 712.8 224.1 714.3 225.7 715.5 227.2 716.2 228.8 716.5 230.3 716.2 231.8 715.3 233.3 713.8 234.8 711.9 236.3 709.5 237.8 706.7 239.3 703.4 240.9 699.9 242.4 696.0 243.9 691.9 245.4 687.6 246.9 683.2 248.4 678.6 249.9 673.9 251.4 669.1 252.9 664.4 254.4 659.7 255.9 655.1 257.4 650.7 258.9 646.4 260.4 642.3 261.9 638.4 263.5 634.9 265.0 631.6 266.5 628.8 268.0 626.4 269.5 624.5 271.0 623.0 272.5 622.1 274.0 621.8 275.5 622.1 277.0 623.1 278.6 624.7 280.1 626.9 281.6 629.6 283.1 632.8 284.6 636.4 286.2 640.5 287.7 644.9 289.2 649.7 290.7 654.7 292.2 660.0 293.8 665.4 295.3 671.1 296.8 676.8 298.3 682.7 299.9 688.5 301.4 694.4 302.9 700.3 304.4 706.0 305.9 711.7 307.5 717.1 309.0 722.4 310.5 727.4 312.0 732.2 313.5 736.6 315.1 740.7 316.6 744.3 318.1 747.5 319.6 750.2 321.1 752.4 322.7 754.0 324.2 755.0 325.7 755.3 327.2 755.0 328.7 754.1 330.2 752.6 331.8 750.6 333.3 748.1 334.8 745.1 336.3 741.8 337.8 738.0 339.3 733.8 340.8 729.4 342.3 724.6 343.9 719.6 345.4 714.4 346.9 709.0 348.4 703.4 349.9 697.7 351.4 691.9 352.9 686.1 354.5 680.2 356.0 674.4 357.5 668.6 359.0 662.9 360.5 657.3 362.0 651.9 363.5 646.7 365.1 641.7 366.6 636.9 368.1 632.5 369.6 628.3 371.1 624.5 372.6 621.2 374.1 618.2 375.6 615.7 377.2 613.7 378.7 612.2 380.2 611.3 381.7 611.0 383.2 611.3 384.8 612.0 386.3 613.2 387.8 614.8 389.4 616.8 390.9 619.2 392.4 622.0 394.0 625.0 395.5 628.4 397.0 632.0 398.6 635.9 400.1 640.0 401.6 644.3 403.2 648.7 404.7 653.3 406.2 658.0 407.8 662.7 409.3 667.6 410.9 672.4 412.4 677.2 413.9 682.1 415.5 686.8 417.0 691.5 418.5 696.1 420.1 700.5 421.6 704.8 423.1 708.9 424.7 712.8 426.2 716.4 427.7 719.8 429.3 722.8 430.8 725.6 432.3 728.0 433.9 730.0 435.4 731.6 436.9 732.8 438.5 733.5 440.0 733.8 441.5 733.5 443.0 732.6 444.5 731.3 446.1 729.4 447.6 727.1 449.1 724.3 450.6 721.2 452.1 717.8 453.6 714.1 455.2 710.1 456.7 705.9 458.2 701.5 459.7 697.0 461.2 692.4 462.7 687.7 464.3 683.1 465.8 678.4 467.3 673.8 468.8 669.3 470.3 664.9 471.8 660.7 473.4 656.7 474.9 653.0 476.4 649.6 477.9 646.5 479.4 643.7 480.9 641.4 482.5 639.5 484.0 638.2 485.5 637.3 487.0 637.0 488.5 637.1 490.1 637.6 491.6 638.3 493.1 639.2 494.7 640.4 496.2 641.8 497.7 643.3 499.3 645.1 500.8 647.1 502.3 649.2 503.9 651.4 505.4 653.8 506.9 656.2 508.5 658.8 510.0 661.5 511.5 664.2 513.1 666.9 514.6 669.7 516.1 672.5 517.7 675.3 519.2 678.1 520.8 680.8 522.3 683.5 523.8 686.2 525.4 688.8 526.9 691.2 528.4 693.6 530.0 695.8 531.5 697.9 533.0 699.9 534.6 701.7 536.1 703.2 537.6 704.6 539.2 705.8 540.7 706.7 542.2 707.4 543.8 707.9 545.3 708.0 546.8 707.6 548.3 706.3 549.8 704.2 551.3 701.5 552.8 698.3 554.4 694.5 555.9 690.4 557.4 685.9 558.9 681.2 560.4 676.4 561.9 671.6 563.4 666.8 564.9 662.1 566.4 657.6 567.9 653.5 569.5 649.7 571.0 646.5 572.5 643.8 574.0 641.7 575.5 640.4 577.0 640.0 578.5 640.3 580.0 641.2 581.6 642.6 583.1 644.5 584.6 646.8 586.1 649.6 587.7 652.8 589.2 656.2 590.7 660.1 592.2 664.1 593.8 668.4 595.3 672.9 596.8 677.5 598.4 682.3 599.9 687.1 601.4 692.0 602.9 696.9 604.4 701.7 606.0 706.5 607.5 711.1 609.0 715.6 610.5 719.9 612.1 723.9 613.6 727.8 615.1 731.2 616.6 734.4 618.2 737.2 619.7 739.5 621.2 741.4 622.8 742.8 624.3 743.7 625.8 744.0 627.3 743.6 628.9 742.5 630.4 740.7 631.9 738.3 633.5 735.3 635.0 731.7 636.6 727.7 638.1 723.2 639.6 718.4 641.2 713.2 642.7 707.7 644.2 701.9 645.8 696.0 647.3 689.9 648.9 683.7 650.4 677.5 651.9 671.3 653.5 665.1 655.0 659.0 656.5 653.1 658.1 647.3 659.6 641.8 661.2 636.6 662.7 631.8 664.2 627.3 665.8 623.3 667.3 619.7 668.9 616.7 670.4 614.3 671.9 612.5 673.5 611.4 675.0 611.0 676.5 611.4 678.1 612.8 679.6 614.8 681.1 617.6 682.6 621.1 684.2 625.1 685.7 629.7 687.2 634.7 688.8 640.0 690.3 645.7 691.8 651.6 693.4 657.7 694.9 663.9 696.4 670.1 697.9 676.3 699.5 682.4 701.0 688.3 702.5 694.0 704.1 699.3 705.6 704.3 707.1 708.9 708.7 712.9 710.2 716.4 711.7 719.2 713.2 721.2 714.8 722.6 716.3 723.0 717.8 722.8 719.3 722.4 720.8 721.7 722.4 720.7 723.9 719.5 725.4 718.0 726.9 716.3 728.4 714.5 729.9 712.4 731.4 710.2 732.9 707.9 734.5 705.4 736.0 702.9 737.5 700.2 739.0 697.5 740.5 694.7 742.0 691.8 743.5 688.9 745.1 686.1 746.6 683.2 748.1 680.3 749.6 677.5 751.1 674.8 752.6 672.1 754.1 669.6 755.7 667.1 757.2 664.8 758.7 662.6 760.2 660.5 761.7 658.7 763.2 657.0 764.7 655.5 766.2 654.3 767.8 653.3 769.3 652.6 770.8 652.2 772.3 652.0 773.9 652.5 775.4 653.9 777.0 656.1 778.6 659.1 780.1 662.8 781.7 666.9 783.2 671.6 784.8 676.6 786.4 681.9 787.9 687.3 789.5 692.9 791.1 698.5 792.6 703.9 794.2 709.2 795.8 714.2 797.3 718.9 798.9 723.0 800.4 726.7 802.0 729.7 803.6 731.9 805.1 733.3 806.7 733.8 808.2 733.5 809.7 732.6 811.3 731.2 812.8 729.3 814.3 726.9 815.8 724.0 817.3 720.8 818.9 717.2 820.4 713.3 821.9 709.1 823.4 704.6 824.9 699.9 826.5 695.1 828.0 690.1 829.5 685.0 831.0 679.8 832.5 674.5 834.1 669.3 835.6 664.1 837.1 659.0 838.6 654.0 840.2 649.2 841.7 644.5 843.2 640.0 844.7 635.8 846.2 631.9 847.8 628.3 849.3 625.1 850.8 622.2 852.3 619.8 853.8 617.9 855.4 616.5 856.9 615.6 858.4 615.3 859.9 615.7 861.4 616.8 862.9 618.5 864.4 620.8 865.9 623.8 867.4 627.2 868.9 631.0 870.5 635.3 872.0 639.9 873.5 644.9 875.0 650.1 876.5 655.5 878.0 661.0 879.5 666.7 881.0 672.3 882.5 678.0 884.0 683.7 885.5 689.2 887.0 694.6 888.5 699.8 890.0 704.8 891.5 709.4 893.1 713.7 894.6 717.5 896.1 720.9 897.6 723.9 899.1 726.2 900.6 727.9 902.1 729.0 903.6 729.4 905.1 729.2 906.6 728.6 908.2 727.7 909.7 726.4 911.2 724.9 912.7 723.0 914.2 720.9 915.8 718.6 917.3 716.0 918.8 713.3 920.3 710.3 921.8 707.3 923.4 704.1 924.9 700.8 926.4 697.5 927.9 694.1 929.5 690.7 931.0 687.3 932.5 683.9 934.0 680.6 935.5 677.3 937.1 674.1 938.6 671.1 940.1 668.1 941.6 665.4 943.1 662.8 944.7 660.5 946.2 658.4 947.7 656.5 949.2 655.0 950.7 653.7 952.3 652.8 953.8 652.2 955.3 652.0 956.8 652.1 958.3 652.4 959.9 652.9 961.4 653.6 962.9 654.5 964.4 655.6 965.9 656.7 967.5 658.1 969.0 659.5 970.5 661.1 972.0 662.7 973.5 664.4 975.1 666.3 976.6 668.1 978.1 670.1 979.6 672.0 981.1 674.0 982.6 676.0 984.2 678.0 985.7 680.0 987.2 681.9 988.7 683.9 990.2 685.7 991.8 687.6 993.3 689.3 994.8 690.9 996.3 692.5 997.8 693.9 999.4 695.3 1000.9 696.4 1002.4 697.5 1003.9 698.4 1005.4 699.1 1007.0 699.6 1008.5 699.9 1010.0 700.0 1011.5 699.9 1013.0 699.7 1014.5 699.4 1016.0 699.0 1017.6 698.4 1019.1 697.8 1020.6 697.0 1022.1 696.2 1023.6 695.2 1025.1 694.2 1026.6 693.1 1028.1 691.9 1029.6 690.7 1031.2 689.4 1032.7 688.1 1034.2 686.7 1035.7 685.3 1037.2 683.8 1038.7 682.3 1040.2 680.8 1041.7 679.3 1043.2 677.8 1044.8 676.2 1046.3 674.7 1047.8 673.2 1049.3 671.7 1050.8 670.2 1052.3 668.7 1053.8 667.3 1055.3 665.9 1056.8 664.6 1058.4 663.3 1059.9 662.1 1061.4 660.9 1062.9 659.8 1064.4 658.8 1065.9 657.8 1067.4 657.0 1068.9 656.2 1070.4 655.6 1072.0 655.0 1073.5 654.6 1075.0 654.3 1076.5 654.1 1078.0 654.0 1079.5 654.1 1081.0 654.2 1082.5 654.5 1084.0 654.9 1085.5 655.4 1087.0 655.9 1088.5 656.6 1090.0 657.3 1091.5 658.2 1093.0 659.0 1094.5 660.0 1096.0 661.0 1097.5 662.1 1099.0 663.3 1100.5 664.4 1102.0 665.7 1103.5 666.9 1105.0 668.2 1106.5 669.6 1108.0 670.9 1109.5 672.3 1111.0 673.7 1112.5 675.1 1114.0 676.5 1115.5 677.9 1117.0 679.3 1118.5 680.7 1120.0 682.1 1121.5 683.4 1123.0 684.8 1124.5 686.1 1126.0 687.3 1127.5 688.6 1129.0 689.7 1130.5 690.9 1132.0 692.0 1133.5 693.0 1135.0 694.0 1136.5 694.8 1138.0 695.7 1139.5 696.4 1141.0 697.1 1142.5 697.6 1144.0 698.1 1145.5 698.5 1147.0 698.8 1148.5 698.9 1150.0 699.0 1151.5 698.6 1153.1 697.5 1154.6 695.8 1156.1 693.6 1157.6 691.0 1159.2 688.0 1160.7 684.8 1162.2 681.5 1163.8 678.1 1165.3 674.8 1166.8 671.6 1168.4 668.6 1169.9 666.0 1171.4 663.8 1172.9 662.1 1174.5 661.0 1176.0 660.6 1177.5 660.7 1179.0 661.1 1180.5 661.6 1182.1 662.4 1183.6 663.4 1185.1 664.5 1186.6 665.8 1188.1 667.2 1189.6 668.8 1191.1 670.5 1192.7 672.3 1194.2 674.1 1195.7 676.1 1197.2 678.1 1198.7 680.1 1200.2 682.2 1201.8 684.3 1203.3 686.4 1204.8 688.5 1206.3 690.5 1207.8 692.5 1209.3 694.5 1210.8 696.3 1212.4 698.1 1213.9 699.8 1215.4 701.4 1216.9 702.8 1218.4 704.1 1219.9 705.2 1221.4 706.2 1223.0 707.0 1224.5 707.5 1226.0 707.9 1227.5 708.0 1229.0 707.7 1230.6 707.0 1232.1 705.8 1233.7 704.2 1235.2 702.2 1236.7 699.9 1238.3 697.3 1239.8 694.5 1241.4 691.5 1242.9 688.3 1244.4 685.0 1246.0 681.7 1247.5 678.3 1249.1 675.0 1250.6 671.7 1252.1 668.5 1253.7 665.5 1255.2 662.7 1256.8 660.1 1258.3 657.8 1259.8 655.8 1261.4 654.2 1262.9 653.0 1264.5 652.3 1266.0 652.0 1267.5 652.2 1269.0 652.9 1270.5 653.9 1272.0 655.3 1273.5 657.0 1275.0 659.0 1276.5 661.2 1278.0 663.6 1279.5 666.3 1281.0 669.0 1282.5 671.9 1284.0 674.8 1285.5 677.8 1287.0 680.8 1288.5 683.7 1290.0 686.6 1291.5 689.3 1293.0 692.0 1294.5 694.4 1296.0 696.6 1297.5 698.6 1299.0 700.3 1300.5 701.7 1302.0 702.7 1303.5 703.4 1305.0 703.6 1306.5 703.5 1308.0 703.3 1309.5 703.0 1311.0 702.6 1312.5 702.0 1314.0 701.4 1315.5 700.6 1317.0 699.8 1318.5 698.9 1320.0 697.9 1321.5 696.8 1323.0 695.7 1324.5 694.5 1326.0 693.3 1327.5 692.0 1329.0 690.7 1330.5 689.4 1332.0 688.0 1333.5 686.7 1335.0 685.3 1336.5 683.9 1338.0 682.6 1339.5 681.2 1341.0 679.9 1342.5 678.6 1344.0 677.3 1345.5 676.1 1347.0 674.9 1348.5 673.8 1350.0 672.7 1351.5 671.7 1353.0 670.8 1354.5 670.0 1356.0 669.2 1357.5 668.6 1359.0 668.0 1360.5 667.6 1362.0 667.3 1363.5 667.1 1365.0 667.0 1366.5 667.1 1368.0 667.5 1369.6 668.1 1371.1 668.8 1372.6 669.8 1374.1 670.9 1375.7 672.1 1377.2 673.4 1378.7 674.8 1380.2 676.3 1381.7 677.8 1383.3 679.2 1384.8 680.7 1386.3 682.2 1387.8 683.6 1389.3 684.9 1390.9 686.1 1392.4 687.2 1393.9 688.2 1395.4 688.9 1397.0 689.5 1398.5 689.9 1400.0 690.0 1401.5 689.9 1403.0 689.4 1404.6 688.7 1406.1 687.8 1407.6 686.7 1409.1 685.4 1410.6 683.9 1412.1 682.3 1413.7 680.5 1415.2 678.7 1416.7 676.7 1418.2 674.7 1419.7 672.7 1421.3 670.7 1422.8 668.7 1424.3 666.7 1425.8 664.7 1427.3 662.9 1428.9 661.1 1430.4 659.5 1431.9 658.0 1433.4 656.7 1434.9 655.6 1436.4 654.7 1438.0 654.0 1439.5 653.5 1441.0 653.4 1442.5 653.7 1444.1 654.7 1445.6 656.3 1447.2 658.4 1448.7 661.1 1450.3 664.1 1451.8 667.5 1453.4 671.2 1454.9 675.1 1456.4 679.3 1458.0 683.6 1459.5 688.0 1461.1 692.4 1462.6 696.8 1464.2 701.1 1465.7 705.3 1467.2 709.2 1468.8 712.9 1470.3 716.3 1471.9 719.3 1473.4 722.0 1475.0 724.1 1476.5 725.7 1478.1 726.7 1479.6 727.0 1481.1 726.7 1482.7 725.9 1484.2 724.6 1485.7 722.8 1487.2 720.6 1488.8 718.0 1490.3 715.0 1491.8 711.7 1493.4 708.2 1494.9 704.4 1496.4 700.4 1497.9 696.2 1499.5 691.9 1501.0 687.5 1502.5 683.1 1504.1 678.6 1505.6 674.2 1507.1 669.8 1508.7 665.5 1510.2 661.3 1511.7 657.3 1513.2 653.5 1514.8 650.0 1516.3 646.7 1517.8 643.7 1519.4 641.1 1520.9 638.9 1522.4 637.1 1523.9 635.8 1525.5 635.0 1527.0 634.7 1528.5 635.1 1530.0 636.1 1531.6 637.7 1533.1 640.0 1534.6 642.7 1536.1 645.8 1537.6 649.4 1539.2 653.2 1540.7 657.4 1542.2 661.7 1543.7 666.2 1545.2 670.8 1546.8 675.3 1548.3 679.9 1549.8 684.4 1551.3 688.7 1552.8 692.9 1554.4 696.7 1555.9 700.3 1557.4 703.4 1558.9 706.1 1560.4 708.4 1562.0 710.0 1563.5 711.0 1565.0 711.4 1566.5 711.1 1568.1 710.3 1569.6 709.1 1571.2 707.4 1572.7 705.4 1574.3 703.1 1575.8 700.5 1577.4 697.8 1578.9 694.8 1580.5 691.8 1582.0 688.7 1583.5 685.6 1585.1 682.6 1586.6 679.6 1588.2 676.9 1589.7 674.3 1591.3 672.0 1592.8 670.0 1594.4 668.3 1595.9 667.1 1597.5 666.3 1599.0 666.0 1600.6 666.4 1602.1 667.6 1603.7 669.5 1605.2 671.9 1606.8 674.9 1608.3 678.3 1609.9 682.0 1611.4 685.9 1613.0 689.9 1614.5 694.1 1616.1 698.1 1617.6 702.0 1619.2 705.7 1620.7 709.1 1622.3 712.1 1623.8 714.5 1625.4 716.4 1626.9 717.6 1628.5 718.0 1630.0 717.6 1631.6 716.5 1633.1 714.7 1634.6 712.3 1636.2 709.3 1637.7 705.9 1639.2 702.1 1640.8 697.9 1642.3 693.4 1643.8 688.7 1645.4 683.8 1646.9 678.8 1648.4 673.9 1649.9 668.9 1651.5 664.0 1653.0 659.3 1654.5 654.8 1656.1 650.6 1657.6 646.8 1659.1 643.4 1660.7 640.4 1662.2 638.0 1663.7 636.2 1665.3 635.1 1666.8 634.7 1668.3 635.1 1669.9 636.1 1671.4 637.8 1672.9 640.1 1674.4 642.9 1676.0 646.2 1677.5 649.8 1679.0 653.8 1680.6 658.0 1682.1 662.5 1683.6 667.1 1685.1 671.8 1686.7 676.6 1688.2 681.3 1689.7 685.9 1691.2 690.4 1692.8 694.6 1694.3 698.6 1695.8 702.2 1697.4 705.5 1698.9 708.3 1700.4 710.6 1701.9 712.3 1703.5 713.3 1705.0 713.7 1706.5 713.4 1708.1 712.7 1709.6 711.5 1711.2 710.0 1712.7 708.1 1714.3 705.9 1715.8 703.5 1717.4 700.9 1718.9 698.1 1720.5 695.3 1722.0 692.4 1723.5 689.4 1725.1 686.6 1726.6 683.8 1728.2 681.2 1729.7 678.8 1731.3 676.6 1732.8 674.7 1734.4 673.2 1735.9 672.0 1737.5 671.3 1739.0 671.0 1740.5 671.2 1742.0 671.7 1743.5 672.6 1745.0 673.8 1746.5 675.1 1748.0 676.7 1749.5 678.5 1751.0 680.4 1752.5 682.4 1754.0 684.5 1755.5 686.5 1757.0 688.6 1758.5 690.6 1760.0 692.5 1761.5 694.3 1763.0 695.9 1764.5 697.2 1766.0 698.4 1767.5 699.3 1769.0 699.8 1770.5 700.0 1772.0 699.9 1773.6 699.6 1775.1 699.1 1776.6 698.4 1778.2 697.6 1779.7 696.7 1781.2 695.6 1782.8 694.4 1784.3 693.1 1785.8 691.7 1787.4 690.2 1788.9 688.7 1790.4 687.1 1792.0 685.5 1793.5 683.8 1795.0 682.2 1796.5 680.5 1798.1 678.9 1799.6 677.3 1801.1 675.8 1802.7 674.3 1804.2 672.9 1805.7 671.6 1807.3 670.4 1808.8 669.3 1810.3 668.4 1811.9 667.6 1813.4 666.9 1814.9 666.4 1816.5 666.1 1818.0 666.0 1819.5 666.1 1821.0 666.5 1822.5 667.0 1824.0 667.7 1825.5 668.7 1827.0 669.7 1828.5 671.0 1830.0 672.3 1831.5 673.8 1833.0 675.3 1834.5 677.0 1836.0 678.7 1837.5 680.4 1839.0 682.2 1840.5 684.0 1842.0 685.8 1843.5 687.6 1845.0 689.3 1846.5 691.0 1848.0 692.7 1849.5 694.2 1851.0 695.7 1852.5 697.0 1854.0 698.3 1855.5 699.3 1857.0 700.3 1858.5 701.0 1860.0 701.5 1861.5 701.9 1863.0 702.0 1864.5 701.8 1864.5 701.8"/><path stroke="#7E2F8E" d="M178.0 683.8L178.5 684.0 180.0 684.5 181.5 685.0 183.1 685.5 184.6 686.0 186.2 686.5 187.7 687.0 189.2 687.4 190.8 687.8 192.3 688.1 193.8 688.4 195.4 688.7 196.9 688.8 198.5 689.0 200.0 689.0 201.6 688.9 203.1 688.5 204.7 688.0 206.2 687.3 207.8 686.4 209.3 685.4 210.9 684.3 212.5 683.0 214.0 681.7 215.6 680.3 217.1 678.9 218.7 677.5 220.3 676.1 221.8 674.7 223.4 673.3 224.9 672.0 226.5 670.7 228.1 669.6 229.6 668.6 231.2 667.7 232.7 667.0 234.3 666.5 235.8 666.1 237.4 666.0 238.9 666.1 240.4 666.4 241.9 666.9 243.4 667.6 244.9 668.5 246.4 669.5 247.9 670.6 249.4 671.9 250.9 673.3 252.4 674.7 253.9 676.3 255.4 678.0 256.9 679.7 258.4 681.4 259.9 683.2 261.4 685.0 263.0 686.8 264.5 688.6 266.0 690.4 267.5 692.1 269.0 693.8 270.5 695.5 272.0 697.1 273.5 698.5 275.0 699.9 276.5 701.2 278.0 702.3 279.5 703.3 281.0 704.2 282.5 704.9 284.0 705.4 285.5 705.7 287.0 705.8 288.5 705.7 290.0 705.2 291.6 704.6 293.1 703.7 294.6 702.5 296.1 701.2 297.6 699.7 299.1 698.0 300.7 696.1 302.2 694.1 303.7 692.0 305.2 689.8 306.7 687.5 308.2 685.1 309.8 682.7 311.3 680.3 312.8 677.8 314.3 675.3 315.8 672.9 317.4 670.5 318.9 668.1 320.4 665.8 321.9 663.6 323.4 661.5 324.9 659.5 326.5 657.6 328.0 655.9 329.5 654.4 331.0 653.1 332.5 651.9 334.0 651.0 335.6 650.4 337.1 649.9 338.6 649.8 340.1 649.9 341.7 650.4 343.2 651.1 344.7 652.1 346.3 653.3 347.8 654.7 349.4 656.3 350.9 658.1 352.4 660.1 354.0 662.2 355.5 664.4 357.0 666.8 358.6 669.2 360.1 671.8 361.7 674.4 363.2 677.0 364.7 679.7 366.3 682.3 367.8 685.0 369.3 687.6 370.9 690.2 372.4 692.8 374.0 695.2 375.5 697.6 377.0 699.8 378.6 701.9 380.1 703.9 381.6 705.7 383.2 707.3 384.7 708.7 386.3 709.9 387.8 710.9 389.3 711.6 390.9 712.1 392.4 712.2 393.9 712.1 395.4 711.7 396.9 711.1 398.5 710.3 400.0 709.3 401.5 708.1 403.0 706.7 404.5 705.2 406.0 703.5 407.5 701.7 409.0 699.8 410.6 697.8 412.1 695.7 413.6 693.5 415.1 691.3 416.6 689.0 418.1 686.6 419.6 684.3 421.2 681.9 422.7 679.6 424.2 677.2 425.7 674.9 427.2 672.7 428.7 670.5 430.2 668.4 431.8 666.4 433.3 664.5 434.8 662.7 436.3 661.0 437.8 659.5 439.3 658.1 440.8 656.9 442.3 655.9 443.9 655.1 445.4 654.5 446.9 654.1 448.4 654.0 449.9 654.1 451.4 654.5 452.9 655.0 454.4 655.7 455.9 656.7 457.4 657.7 458.9 659.0 460.4 660.4 461.9 661.9 463.4 663.5 464.9 665.1 466.4 666.9 467.9 668.8 469.4 670.7 470.9 672.6 472.4 674.5 474.0 676.5 475.5 678.4 477.0 680.3 478.5 682.2 480.0 684.1 481.5 685.9 483.0 687.5 484.5 689.1 486.0 690.6 487.5 692.0 489.0 693.3 490.5 694.3 492.0 695.3 493.5 696.0 495.0 696.5 496.5 696.9 498.0 697.0 499.5 696.9 501.1 696.7 502.6 696.2 504.1 695.7 505.6 695.0 507.2 694.2 508.7 693.2 510.2 692.2 511.7 691.1 513.3 689.9 514.8 688.6 516.3 687.3 517.8 686.0 519.4 684.6 520.9 683.2 522.4 681.8 523.9 680.4 525.5 679.0 527.0 677.7 528.5 676.4 530.0 675.1 531.6 673.9 533.1 672.8 534.6 671.8 536.1 670.8 537.7 670.0 539.2 669.3 540.7 668.8 542.2 668.3 543.8 668.1 545.3 668.0 546.8 668.1 548.4 668.4 549.9 668.9 551.5 669.5 553.0 670.3 554.5 671.3 556.1 672.3 557.6 673.5 559.2 674.8 560.7 676.1 562.2 677.5 563.8 679.0 565.3 680.5 566.9 682.1 568.4 683.6 569.9 685.2 571.5 686.8 573.0 688.3 574.6 689.8 576.1 691.2 577.6 692.5 579.2 693.8 580.7 695.0 582.3 696.0 583.8 697.0 585.3 697.8 586.9 698.4 588.4 698.9 590.0 699.2 591.5 699.3 593.0 699.2 594.6 698.8 596.1 698.1 597.6 697.2 599.1 696.1 600.7 694.9 602.2 693.4 603.7 691.8 605.2 690.1 606.8 688.2 608.3 686.2 609.8 684.2 611.3 682.1 612.9 679.9 614.4 677.7 615.9 675.6 617.4 673.4 619.0 671.2 620.5 669.1 622.0 667.1 623.5 665.1 625.1 663.2 626.6 661.5 628.1 659.9 629.6 658.4 631.2 657.2 632.7 656.1 634.2 655.2 635.7 654.5 637.3 654.1 638.8 654.0 640.3 654.2 641.8 654.6 643.3 655.4 644.8 656.4 646.3 657.7 647.8 659.2 649.3 660.8 650.9 662.7 652.4 664.7 653.9 666.9 655.4 669.1 656.9 671.5 658.4 673.9 659.9 676.3 661.4 678.8 662.9 681.3 664.4 683.7 665.9 686.1 667.4 688.5 668.9 690.7 670.4 692.9 671.9 694.9 673.5 696.8 675.0 698.4 676.5 699.9 678.0 701.2 679.5 702.2 681.0 703.0 682.5 703.4 684.0 703.6 685.5 703.4 687.0 703.0 688.6 702.3 690.1 701.4 691.6 700.2 693.1 698.9 694.6 697.3 696.1 695.7 697.7 693.9 699.2 691.9 700.7 690.0 702.2 687.9 703.7 685.8 705.3 683.8 706.8 681.7 708.3 679.6 709.8 677.7 711.3 675.7 712.9 673.9 714.4 672.3 715.9 670.7 717.4 669.4 718.9 668.2 720.4 667.3 722.0 666.6 723.5 666.2 725.0 666.0 726.5 666.1 728.0 666.3 729.5 666.7 731.0 667.1 732.5 667.7 734.0 668.4 735.5 669.2 737.0 670.1 738.5 671.1 740.0 672.2 741.5 673.3 743.0 674.4 744.5 675.6 746.0 676.8 747.5 678.1 749.0 679.4 750.5 680.6 752.0 681.9 753.5 683.2 755.0 684.4 756.5 685.6 758.0 686.7 759.5 687.8 761.0 688.9 762.5 689.9 764.0 690.8 765.5 691.6 767.0 692.3 768.5 692.9 770.0 693.3 771.5 693.7 773.0 693.9 774.5 694.0 776.0 693.9 777.5 693.6 779.0 693.1 780.5 692.4 782.0 691.6 783.5 690.6 785.0 689.5 786.6 688.3 788.1 687.0 789.6 685.6 791.1 684.1 792.6 682.6 794.1 681.0 795.6 679.4 797.1 677.8 798.6 676.2 800.1 674.6 801.6 673.0 803.1 671.5 804.6 670.0 806.1 668.6 807.6 667.3 809.2 666.1 810.7 665.0 812.2 664.0 813.7 663.2 815.2 662.5 816.7 662.0 818.2 661.7 819.7 661.6 821.2 661.8 822.8 662.3 824.4 663.2 825.9 664.4 827.5 665.9 829.0 667.6 830.6 669.5 832.1 671.6 833.6 673.9 835.2 676.3 836.8 678.7 838.3 681.2 839.9 683.8 841.4 686.4 843.0 688.9 844.5 691.3 846.1 693.7 847.6 696.0 849.1 698.1 850.7 700.0 852.2 701.7 853.8 703.2 855.4 704.4 856.9 705.3 858.5 705.8 860.0 706.0 861.5 705.9 863.0 705.5 864.5 705.0 866.1 704.2 867.6 703.3 869.1 702.2 870.6 701.0 872.1 699.6 873.6 698.1 875.2 696.5 876.7 694.8 878.2 693.0 879.7 691.1 881.2 689.2 882.7 687.3 884.2 685.3 885.8 683.4 887.3 681.4 888.8 679.5 890.3 677.6 891.8 675.7 893.3 673.9 894.8 672.2 896.4 670.6 897.9 669.1 899.4 667.7 900.9 666.5 902.4 665.4 903.9 664.5 905.5 663.7 907.0 663.2 908.5 662.8 910.0 662.7 911.5 662.8 913.0 663.1 914.5 663.5 916.0 664.2 917.5 664.9 919.0 665.8 920.5 666.9 922.0 668.0 923.5 669.2 925.0 670.5 926.5 671.9 928.0 673.3 929.5 674.8 931.0 676.3 932.5 677.8 934.0 679.3 935.5 680.8 937.0 682.3 938.5 683.7 940.0 685.1 941.5 686.4 943.0 687.6 944.5 688.7 946.0 689.8 947.5 690.7 949.0 691.4 950.5 692.1 952.0 692.5 953.5 692.8 955.0 692.9 956.5 692.9 958.0 692.8 959.5 692.6 961.0 692.4 962.6 692.1 964.1 691.8 965.6 691.4 967.1 690.9 968.6 690.5 970.1 689.9 971.6 689.4 973.1 688.8 974.7 688.2 976.2 687.5 977.7 686.8 979.2 686.2 980.7 685.4 982.2 684.7 983.7 684.0 985.2 683.2 986.7 682.5 988.3 681.7 989.8 681.0 991.3 680.2 992.8 679.5 994.3 678.8 995.8 678.0 997.3 677.4 998.8 676.7 1000.3 676.0 1001.9 675.4 1003.4 674.8 1004.9 674.3 1006.4 673.7 1007.9 673.3 1009.4 672.8 1010.9 672.4 1012.4 672.1 1014.0 671.8 1015.5 671.6 1017.0 671.4 1018.5 671.3 1020.0 671.3 1021.5 671.3 1023.0 671.5 1024.6 671.6 1026.1 671.9 1027.6 672.2 1029.2 672.6 1030.7 673.1 1032.2 673.5 1033.7 674.1 1035.2 674.7 1036.8 675.3 1038.3 676.0 1039.8 676.7 1041.3 677.4 1042.9 678.1 1044.4 678.9 1045.9 679.7 1047.5 680.5 1049.0 681.3 1050.5 682.1 1052.0 682.9 1053.5 683.7 1055.1 684.5 1056.6 685.3 1058.1 686.1 1059.7 686.8 1061.2 687.5 1062.7 688.2 1064.2 688.9 1065.8 689.5 1067.3 690.1 1068.8 690.7 1070.3 691.1 1071.8 691.6 1073.4 692.0 1074.9 692.3 1076.4 692.6 1078.0 692.7 1079.5 692.9 1081.0 692.9 1082.5 692.9 1084.0 692.7 1085.5 692.5 1087.0 692.2 1088.5 691.9 1090.0 691.4 1091.5 691.0 1093.0 690.4 1094.5 689.8 1096.0 689.2 1097.5 688.5 1099.0 687.7 1100.5 687.0 1102.0 686.2 1103.5 685.3 1105.0 684.5 1106.5 683.6 1108.0 682.7 1109.5 681.8 1111.0 681.0 1112.5 680.1 1114.0 679.2 1115.5 678.3 1117.0 677.4 1118.5 676.6 1120.0 675.7 1121.5 674.9 1123.0 674.2 1124.5 673.4 1126.0 672.7 1127.5 672.1 1129.0 671.5 1130.5 670.9 1132.0 670.5 1133.5 670.0 1135.0 669.7 1136.5 669.4 1138.0 669.2 1139.5 669.0 1141.0 669.0 1142.5 669.1 1144.0 669.2 1145.5 669.5 1147.0 669.9 1148.5 670.4 1150.0 671.0 1151.5 671.7 1153.0 672.4 1154.5 673.2 1156.0 674.0 1157.5 674.9 1159.0 675.9 1160.5 676.8 1162.0 677.8 1163.5 678.8 1165.0 679.9 1166.5 680.9 1168.0 681.9 1169.5 682.9 1171.0 683.8 1172.5 684.8 1174.0 685.7 1175.5 686.5 1177.0 687.3 1178.5 688.0 1180.0 688.7 1181.5 689.3 1183.0 689.8 1184.5 690.2 1186.0 690.5 1187.5 690.6 1189.0 690.7 1190.5 690.6 1192.1 690.4 1193.6 690.1 1195.1 689.6 1196.7 689.1 1198.2 688.4 1199.8 687.7 1201.3 686.9 1202.8 686.0 1204.4 685.0 1205.9 684.1 1207.4 683.1 1209.0 682.0 1210.5 681.0 1212.0 680.0 1213.6 678.9 1215.1 677.9 1216.6 677.0 1218.2 676.0 1219.7 675.1 1221.2 674.3 1222.8 673.6 1224.3 672.9 1225.9 672.4 1227.4 671.9 1228.9 671.6 1230.5 671.4 1232.0 671.3 1233.5 671.4 1235.1 671.6 1236.6 672.0 1238.2 672.5 1239.7 673.1 1241.2 673.8 1242.8 674.6 1244.3 675.4 1245.8 676.4 1247.4 677.3 1248.9 678.4 1250.5 679.4 1252.0 680.5 1253.5 681.5 1255.1 682.5 1256.6 683.6 1258.2 684.5 1259.7 685.5 1261.2 686.3 1262.8 687.1 1264.3 687.8 1265.8 688.4 1267.4 688.9 1268.9 689.3 1270.5 689.5 1272.0 689.6 1273.5 689.5 1275.1 689.3 1276.6 689.0 1278.2 688.5 1279.7 687.9 1281.2 687.2 1282.8 686.5 1284.3 685.7 1285.9 684.8 1287.4 683.9 1289.0 683.0 1290.5 682.0 1292.0 681.1 1293.6 680.2 1295.1 679.3 1296.7 678.4 1298.2 677.6 1299.8 676.9 1301.3 676.2 1302.8 675.6 1304.4 675.1 1305.9 674.8 1307.5 674.6 1309.0 674.5 1310.5 674.5 1312.0 674.6 1313.5 674.7 1315.0 674.9 1316.5 675.0 1318.0 675.3 1319.5 675.5 1321.0 675.8 1322.5 676.2 1324.0 676.5 1325.5 676.9 1327.0 677.3 1328.5 677.7 1330.0 678.1 1331.5 678.6 1333.0 679.0 1334.5 679.5 1336.0 680.0 1337.5 680.5 1339.0 681.0 1340.5 681.5 1342.0 682.0 1343.5 682.5 1345.0 683.0 1346.5 683.5 1348.0 684.0 1349.5 684.4 1351.0 684.9 1352.5 685.3 1354.0 685.7 1355.5 686.1 1357.0 686.5 1358.5 686.8 1360.0 687.2 1361.5 687.5 1363.0 687.7 1364.5 688.0 1366.0 688.1 1367.5 688.3 1369.0 688.4 1370.5 688.5 1372.0 688.5 1373.5 688.4 1375.0 688.3 1376.6 688.0 1378.1 687.6 1379.6 687.2 1381.1 686.7 1382.6 686.1 1384.2 685.5 1385.7 684.8 1387.2 684.1 1388.7 683.4 1390.2 682.6 1391.8 681.9 1393.3 681.1 1394.8 680.4 1396.3 679.7 1397.8 679.0 1399.4 678.4 1400.9 677.8 1402.4 677.3 1403.9 676.9 1405.4 676.5 1407.0 676.2 1408.5 676.1 1410.0 676.0 1411.5 676.1 1413.0 676.3 1414.5 676.7 1416.0 677.1 1417.5 677.7 1419.0 678.4 1420.5 679.1 1422.0 679.9 1423.5 680.7 1425.0 681.6 1426.5 682.5 1428.0 683.4 1429.5 684.3 1431.0 685.1 1432.5 685.9 1434.0 686.6 1435.5 687.3 1437.0 687.9 1438.5 688.3 1440.0 688.7 1441.5 688.9 1443.0 689.0 1444.5 688.9 1446.1 688.6 1447.6 688.2 1449.1 687.6 1450.7 686.9 1452.2 686.0 1453.8 685.1 1455.3 684.0 1456.8 682.9 1458.4 681.7 1459.9 680.5 1461.4 679.2 1463.0 677.8 1464.5 676.5 1466.0 675.2 1467.6 673.8 1469.1 672.5 1470.6 671.3 1472.2 670.1 1473.7 669.0 1475.2 667.9 1476.8 667.0 1478.3 666.1 1479.9 665.4 1481.4 664.8 1482.9 664.4 1484.5 664.1 1486.0 664.0 1487.5 664.1 1489.0 664.5 1490.6 665.1 1492.1 665.9 1493.6 666.8 1495.1 668.0 1496.6 669.3 1498.1 670.7 1499.7 672.2 1501.2 673.8 1502.7 675.5 1504.2 677.2 1505.7 678.9 1507.3 680.7 1508.8 682.4 1510.3 684.1 1511.8 685.8 1513.3 687.4 1514.9 688.9 1516.4 690.3 1517.9 691.6 1519.4 692.8 1520.9 693.7 1522.4 694.5 1524.0 695.1 1525.5 695.5 1527.0 695.6 1528.5 695.5 1530.0 695.4 1531.5 695.1 1533.0 694.7 1534.5 694.2 1536.0 693.6 1537.5 693.0 1539.0 692.3 1540.5 691.5 1542.0 690.6 1543.5 689.7 1545.0 688.8 1546.5 687.8 1548.0 686.8 1549.5 685.8 1551.0 684.8 1552.6 683.8 1554.1 682.8 1555.6 681.8 1557.1 680.8 1558.6 679.8 1560.1 678.9 1561.6 678.0 1563.1 677.1 1564.6 676.3 1566.1 675.6 1567.6 675.0 1569.1 674.4 1570.6 673.9 1572.1 673.5 1573.6 673.2 1575.1 673.1 1576.6 673.0 1578.1 673.1 1579.6 673.4 1581.2 673.8 1582.7 674.4 1584.2 675.1 1585.8 675.8 1587.3 676.7 1588.8 677.5 1590.3 678.3 1591.8 679.2 1593.4 679.9 1594.9 680.6 1596.4 681.2 1598.0 681.6 1599.5 681.9 1601.0 682.0 1602.6 681.9 1604.1 681.7 1605.7 681.3 1607.3 680.7 1608.8 680.1 1610.4 679.4 1611.9 678.6 1613.5 677.8 1615.1 676.9 1616.6 676.1 1618.2 675.2 1619.8 674.4 1621.3 673.6 1622.9 672.9 1624.4 672.3 1626.0 671.7 1627.6 671.3 1629.1 671.1 1630.7 671.0 1632.2 671.1 1633.8 671.5 1635.4 672.0 1636.9 672.7 1638.5 673.6 1640.0 674.6 1641.5 675.8 1643.1 677.1 1644.7 678.5 1646.2 679.9 1647.8 681.4 1649.3 682.9 1650.8 684.5 1652.4 686.1 1654.0 687.6 1655.5 689.1 1657.0 690.5 1658.6 691.9 1660.2 693.2 1661.7 694.4 1663.2 695.4 1664.8 696.3 1666.3 697.0 1667.9 697.5 1669.5 697.9 1671.0 698.0 1672.5 697.9 1674.0 697.6 1675.6 697.1 1677.1 696.4 1678.6 695.6 1680.1 694.6 1681.6 693.5 1683.1 692.3 1684.7 691.0 1686.2 689.6 1687.7 688.2 1689.2 686.7 1690.7 685.2 1692.3 683.8 1693.8 682.3 1695.3 680.8 1696.8 679.4 1698.3 678.0 1699.9 676.7 1701.4 675.5 1702.9 674.4 1704.4 673.4 1705.9 672.6 1707.4 671.9 1709.0 671.4 1710.5 671.1 1712.0 671.0 1713.5 671.1 1715.1 671.3 1716.6 671.6 1718.1 672.0 1719.6 672.5 1721.2 673.1 1722.7 673.8 1724.2 674.4 1725.7 675.1 1727.3 675.9 1728.8 676.6 1730.3 677.2 1731.8 677.9 1733.4 678.5 1734.9 679.0 1736.4 679.4 1737.9 679.7 1739.5 679.9 1741.0 680.0 1742.5 680.0 1744.0 679.8 1745.5 679.6 1747.0 679.4 1748.5 679.1 1750.0 678.7 1751.5 678.3 1753.0 677.9 1754.5 677.5 1756.0 677.1 1757.5 676.7 1759.0 676.3 1760.5 675.9 1762.0 675.6 1763.5 675.4 1765.0 675.2 1766.5 675.0 1768.0 675.0 1769.5 675.0 1771.0 675.2 1772.5 675.4 1774.0 675.7 1775.5 676.0 1777.0 676.5 1778.5 676.9 1780.0 677.5 1781.5 678.0 1783.0 678.6 1784.5 679.3 1786.0 679.9 1787.5 680.6 1789.0 681.3 1790.5 682.0 1792.0 682.7 1793.5 683.4 1795.0 684.1 1796.5 684.7 1798.0 685.4 1799.5 686.0 1801.0 686.5 1802.5 687.1 1804.0 687.5 1805.5 688.0 1807.0 688.3 1808.5 688.6 1810.0 688.8 1811.5 689.0 1813.0 689.0 1814.5 689.0 1816.0 688.9 1817.5 688.8 1819.0 688.6 1820.5 688.4 1822.0 688.1 1823.5 687.8 1825.0 687.5 1826.5 687.2 1828.0 686.8 1829.5 686.4 1831.0 685.9 1832.5 685.5 1834.0 685.0 1835.5 684.5 1837.0 684.0 1838.5 683.5 1840.0 683.0 1841.5 682.5 1843.0 682.0 1844.5 681.5 1846.0 681.0 1847.5 680.5 1849.0 680.0 1850.5 679.5 1852.0 679.1 1853.5 678.6 1855.0 678.2 1856.5 677.8 1858.0 677.5 1859.5 677.2 1861.0 676.9 1862.5 676.6 1864.0 676.4 1864.5 676.3"/><path stroke="#77AC30" d="M180.5 687.5L181.2 681.1 182.0 674.4 182.7 667.7 183.5 661.0 184.1 655.7M187.7 624.0L188.0 621.1 188.8 614.7 189.6 608.4 190.3 602.2 191.1 596.1 191.6 592.2M196.0 560.5L196.4 558.1 197.1 553.5 197.9 549.2 198.7 545.1 199.4 541.4 200.2 537.9 200.9 534.7 201.7 531.8 202.5 529.3 202.5 529.2M213.1 543.9L213.8 548.5 214.5 554.3 215.3 560.6 216.0 567.5 216.8 574.7 216.9 575.7M219.8 607.5L220.6 617.1 221.3 626.6 222.1 636.5 222.3 639.4M224.6 671.3L225.1 678.3 225.8 689.3 226.6 700.5 226.8 703.3M228.9 735.2L229.6 746.3 230.4 758.0 231.0 767.1M233.0 799.1L233.4 804.7 234.1 816.3 234.9 827.8 235.1 831.0M237.2 862.9L237.9 872.7 238.7 883.5 239.4 894.1 239.5 894.9M241.9 926.8L242.4 933.9 243.2 943.1 243.9 952.0 244.5 958.6M247.7 990.5L248.5 996.7 249.2 1002.5 250.0 1007.9 250.7 1012.6 251.5 1016.8 252.2 1020.5 252.6 1022.1M261.6 1005.5L262.1 1002.0 262.8 995.2 263.6 987.7 264.3 979.5 264.9 972.9M267.4 940.3L268.1 929.6 268.9 918.0 269.5 907.6M271.5 874.9L271.9 866.9 272.7 853.1 273.2 842.4M274.9 809.7L275.7 794.5 276.5 779.2 276.6 777.0M278.1 744.3L278.7 731.8 279.5 715.6 279.7 711.6M281.2 678.9L281.8 666.4 282.5 649.9 282.7 646.4M284.2 613.7L284.8 600.1 285.5 583.6 285.7 581.0M287.2 548.3L287.8 534.4 288.6 518.2 288.7 515.6M290.3 482.8L290.8 470.8 291.6 455.5 291.9 450.4M293.5 417.7L293.9 411.1 294.6 396.9 295.3 385.0M297.2 352.3L297.7 344.2 298.4 332.0 299.2 320.4 299.2 319.6M301.6 287.2L302.2 279.3 303.0 270.5 303.7 262.3 304.5 254.8 304.5 254.6M310.0 222.4L311.3 221.0 312.8 223.0 313.6 225.4 314.3 228.7 315.1 232.9 315.8 238.0 316.6 243.9 317.3 250.3M320.1 282.2L320.3 285.0 321.1 295.4 321.8 306.4 322.4 314.4M324.3 346.3L324.8 356.3 325.6 370.2 326.0 378.3M327.7 410.5L327.9 414.5 328.6 430.1 329.2 442.4M330.7 474.6L330.9 479.1 331.6 496.0 332.1 506.6M333.5 538.8L333.9 548.4 334.6 566.3 334.8 570.8M336.2 603.0L336.9 620.8 337.5 635.0M338.8 667.2L339.1 676.0 339.9 694.4 340.1 699.2M341.4 731.2L342.2 749.5 342.7 763.4M344.1 795.4L344.4 803.6 345.2 821.3 345.4 827.6M346.8 859.6L347.4 872.9 348.2 889.6 348.3 891.8M349.8 923.7L350.4 937.5 351.2 952.7 351.4 955.9M353.0 987.9L353.5 995.7 354.2 1009.0 354.8 1019.9M356.9 1052.0L357.2 1056.6 358.0 1067.0 358.7 1076.7 359.3 1083.9M362.8 1116.0L363.2 1119.1 364.0 1123.3 364.7 1126.6 365.5 1129.0 366.2 1130.5 367.8 1130.6 369.3 1127.6 370.0 1125.1 370.8 1121.8 371.5 1117.9 371.9 1116.0M375.8 1084.3L376.1 1081.5 376.8 1073.4 377.6 1064.9 378.3 1055.8 378.6 1052.4M381.0 1020.2L381.4 1015.1 382.1 1003.9 382.9 992.4 383.1 988.3M385.1 956.4L385.9 942.7 386.7 929.6 387.0 924.4M388.7 892.5L388.9 888.6 389.7 874.6 390.4 860.4 390.5 860.3M392.1 828.3L392.7 816.8 393.5 802.1 393.8 796.4M395.4 764.4L395.7 757.4 396.5 742.5 397.0 732.4M398.6 700.5L398.8 697.8 399.5 682.9 400.3 668.3M401.9 636.3L402.6 624.6 403.3 610.4 403.6 604.4M405.4 572.4L405.6 568.9 406.3 555.4 407.1 542.3 407.2 540.5M409.1 508.5L409.4 504.6 410.1 492.6 410.9 481.1 411.2 476.3M413.5 444.4L413.9 438.7 414.7 429.2 415.4 420.1 416.1 412.5M419.4 380.7L419.9 376.8 420.7 371.7 421.5 367.1 422.2 363.2 423.0 359.9 423.7 357.4 424.5 355.5 426.0 354.0 427.5 355.2 428.3 356.8 428.4 357.1M434.3 387.7L435.1 394.1 435.8 400.5 436.6 407.3 437.3 414.4 437.8 418.8M440.7 449.6L441.1 454.6 441.9 463.4 442.6 472.4 443.3 480.8M445.8 511.9L446.4 520.1 447.2 530.0 447.9 539.9 448.1 543.1M450.5 574.2L450.9 580.1 451.7 590.1 452.4 600.0 452.9 605.4M455.3 636.3L455.5 638.9 456.2 648.3 457.0 657.6 457.7 666.6 457.8 667.4M460.6 698.6L460.8 700.4 461.5 708.2 462.3 715.6 463.0 722.7 463.8 729.5 463.8 729.7M468.1 760.6L469.1 765.2 469.8 768.4 470.6 771.1 471.3 773.2 472.1 774.8 473.6 776.0 475.1 775.2 476.6 772.9 477.4 771.2 478.1 769.2 478.9 766.9 479.6 764.4 479.9 763.5M486.0 733.1L486.4 731.0 487.2 726.5 487.9 721.9 488.7 717.2 489.4 712.5 490.2 707.7 490.9 702.9 491.0 702.3M496.0 671.4L496.9 665.6 497.7 661.3 498.5 657.2 499.2 653.3 500.0 649.5 500.7 645.9 501.5 642.6 501.9 640.7M514.6 636.7L515.1 638.5 515.8 641.9 516.6 645.6 517.3 649.6 518.1 654.0 518.9 658.6 519.6 663.5 520.2 667.2M524.2 698.2L524.9 703.9 525.7 710.4 526.4 717.0 527.2 723.7 527.8 729.3M531.2 760.3L531.7 765.8 532.5 773.0 533.3 780.2 534.0 787.3 534.5 791.4M537.8 822.5L538.6 829.0 539.3 835.6 540.1 842.1 540.8 848.5 541.4 853.3M545.6 884.2L546.1 887.4 546.9 892.0 547.7 896.4 548.4 900.4 549.2 904.1 549.9 907.5 550.7 910.5 551.5 913.2 552.0 914.8M562.6 899.2L563.6 892.6 564.3 887.0 565.1 880.9 565.8 874.4 566.5 868.7M569.5 837.8L569.6 836.2 570.4 827.6 571.1 818.6 571.9 809.3 572.1 807.2M574.4 776.3L574.9 769.8 575.7 759.4 576.4 748.7 576.7 745.6M578.8 714.7L579.5 704.7 580.2 693.4 580.8 684.0M582.9 653.3L583.2 647.6 584.0 636.0 584.8 624.4 584.9 622.4M586.9 591.7L587.0 590.0 587.8 578.6 588.5 567.3 589.0 560.8M591.1 530.1L591.6 523.3 592.3 512.6 593.1 502.2 593.3 499.2M595.6 468.5L596.1 462.7 596.9 453.4 597.6 444.4 598.2 437.6M601.1 407.0L601.4 404.5 602.2 397.6 602.9 391.1 603.7 385.0 604.4 379.4 604.9 376.5M614.0 354.3L615.0 358.5 615.8 362.6 616.5 367.5 617.3 373.1 618.1 379.6 618.7 385.2M621.4 416.3L621.9 422.0 622.6 432.3 623.4 443.2 623.7 447.5M625.6 478.7L626.4 491.3 627.2 504.4 627.5 509.9M629.2 541.1L629.4 545.5 630.2 559.8 630.9 572.5M632.5 603.7L633.2 618.7 634.0 633.8 634.0 634.9M635.6 666.2L636.3 679.1 637.0 694.2 637.2 697.4M638.8 728.6L639.3 739.1 640.0 753.7 640.4 759.8M642.0 791.0L642.3 796.5 643.1 810.2 643.8 822.2M645.6 853.4L646.1 861.6 646.9 873.4 647.6 884.6M649.9 915.7L650.7 924.9 651.4 933.4 652.2 941.3 652.8 946.9M659.1 977.0L660.5 975.9 661.3 974.5 662.0 972.7 662.8 970.3 663.5 967.5 664.3 964.2 665.0 960.5 665.8 956.3 666.5 951.8 667.3 946.9 667.5 945.4M671.6 912.7L671.8 910.4 672.6 903.3 673.3 896.1 674.1 888.5 674.8 880.8 675.0 879.6M678.0 846.7L678.6 840.1 679.4 831.6 680.1 823.0 680.9 814.4 680.9 813.6M683.8 780.8L684.6 771.4 685.4 762.9 686.1 754.5 686.8 747.9M689.9 714.8L690.7 706.9 691.4 699.7 692.2 692.6 692.9 685.8 693.4 682.0M697.8 649.0L698.2 646.7 699.0 642.5 699.7 638.8 700.5 635.5 701.2 632.7 702.0 630.3 702.7 628.5 703.5 627.1 705.0 626.0 706.5 626.9 708.0 629.5 708.8 631.4 709.3 632.8M716.2 665.3L717.2 671.1 718.0 675.9 718.7 680.7 719.5 685.6 720.2 690.5 721.0 695.5 721.4 697.9M726.6 730.7L727.1 733.3 727.9 737.4 728.6 741.4 729.4 745.1 730.1 748.6 730.9 751.8 731.7 754.7 732.4 757.3 733.2 759.6 734.0 761.5 734.6 762.7M745.1 737.0L746.1 730.7 746.8 725.2 747.6 719.4 748.3 713.3 749.1 706.9 749.4 704.3M752.8 671.5L753.6 663.3 754.4 655.4 755.1 647.3 755.9 639.1 756.0 638.4M758.9 605.5L759.7 596.4 760.4 587.7 761.2 579.0 761.8 572.4M764.6 539.5L765.0 535.8 765.7 527.3 766.5 518.9 767.2 510.7 767.7 506.4M770.9 473.6L771.0 471.9 771.8 464.7 772.5 457.8 773.3 451.1 774.1 444.7 774.6 440.5M779.6 407.9L780.1 405.4 780.9 402.2 781.6 399.5 782.4 397.2 783.1 395.4 783.9 394.1 785.4 393.0 786.9 394.8 787.7 396.9 788.4 399.9 789.2 403.7 789.9 408.2 789.9 408.3M793.6 440.1L794.5 449.9 795.2 459.0 796.0 468.7 796.2 472.2M798.5 504.1L799.0 512.1 799.8 524.1 800.5 536.3M802.4 568.3L802.8 575.3 803.5 588.8 804.2 600.5M805.9 632.4L806.6 645.0 807.3 659.4 807.6 664.6M809.2 696.6L809.6 703.2 810.3 717.8 810.9 728.5M812.6 760.8L813.3 776.0 814.1 790.3 814.2 792.7M816.0 824.9L816.4 832.2 817.1 845.7 817.8 856.9M819.7 889.1L820.1 896.9 820.9 908.9 821.7 920.4 821.7 921.0M824.0 953.2L824.7 962.0 825.4 971.1 826.2 979.6 826.7 985.0M830.7 1017.0L831.5 1021.1 832.2 1024.1 833.0 1026.2 833.7 1027.6 835.3 1027.6 836.8 1024.5 837.5 1021.8 838.3 1018.4 839.0 1014.3 839.8 1009.6 839.9 1009.0M843.5 977.2L844.3 968.5 845.1 959.9 845.9 950.7 846.3 945.4M848.6 913.5L848.9 909.9 849.7 898.7 850.4 887.3 850.8 881.5M852.8 849.6L853.4 838.8 854.2 826.1 854.7 817.6M856.6 785.7L857.2 774.0 858.0 760.7 858.4 753.7M860.2 721.8L861.0 707.3 861.8 694.0 862.0 689.9M863.9 657.9L864.0 654.7 864.8 641.9 865.6 629.2 865.7 626.2M867.7 594.3L867.8 592.4 868.6 580.7 869.3 569.3 869.8 562.3M872.1 530.4L872.4 526.9 873.1 517.3 873.9 508.1 874.7 499.5 874.7 498.5M878.1 466.7L878.4 463.8 879.2 458.4 880.0 453.7 880.7 449.6 881.5 446.2 882.2 443.5 883.0 441.6 884.5 440.0 886.0 440.9 887.2 442.9M894.2 474.0L895.1 480.0 895.9 485.5 896.6 491.1 897.4 497.1 898.1 503.2 898.4 505.5M901.9 537.3L902.7 544.5 903.4 552.0 904.2 559.6 905.0 567.3 905.1 568.9M908.1 600.5L908.8 607.2 909.5 615.3 910.3 623.4 911.0 631.6 911.1 632.3M914.1 663.9L914.8 672.0 915.6 679.9 916.3 687.7 917.1 695.4 917.1 695.8M920.4 727.4L920.9 731.9 921.6 738.7 922.4 745.4 923.2 751.8 923.9 757.9 924.1 759.2M928.7 790.6L929.2 793.7 930.0 797.5 930.7 801.0 931.5 804.2 932.3 807.0 933.0 809.4 933.8 811.4 934.5 812.9 936.0 814.8 937.6 814.9 939.1 813.8 940.6 811.6 940.7 811.3M949.5 780.9L950.4 776.4 951.2 772.5 951.9 768.4 952.7 764.2 953.4 759.9 954.2 755.5 954.9 750.9 955.2 749.4M960.1 718.0L961.0 711.8 961.8 706.6 962.5 701.5 963.3 696.3 964.0 691.1 964.7 686.6M969.3 654.9L970.1 650.1 970.8 645.1 971.6 640.2 972.3 635.4 973.1 630.7 973.9 626.1 974.3 623.6M980.1 592.1L980.7 589.7 981.4 586.3 982.2 583.2 982.9 580.3 983.7 577.5 984.4 574.9 985.2 572.6 986.0 570.4 986.7 568.5 987.5 566.8 988.2 565.4 989.7 563.2 990.6 562.5M1004.6 588.6L1005.6 592.6 1006.4 595.8 1007.1 599.1 1007.9 602.5 1008.7 606.1 1009.4 609.8 1010.2 613.5 1010.9 617.4 1011.4 619.7M1016.9 651.2L1017.7 656.0 1018.5 660.6 1019.3 665.2 1020.0 669.9 1020.8 674.7 1021.5 679.4 1022.0 682.5M1027.0 714.1L1027.6 718.1 1028.4 723.0 1029.1 727.8 1029.9 732.6 1030.6 737.3 1031.4 742.1 1031.9 745.5M1037.2 777.0L1038.2 782.4 1039.0 786.6 1039.7 790.6 1040.5 794.6 1041.2 798.5 1042.0 802.2 1042.7 805.9 1043.2 808.2M1051.4 838.9L1052.6 841.8 1053.3 843.4 1054.1 844.9 1054.9 846.2 1056.4 848.3 1057.9 849.6 1059.4 850.0 1060.9 849.5 1062.4 847.9 1063.9 845.3 1064.7 843.6 1065.4 841.8 1066.2 839.7 1066.9 837.3 1067.6 835.0M1074.4 804.0L1075.2 799.6 1075.9 795.2 1076.7 790.7 1077.4 786.1 1078.2 781.3 1078.9 776.5 1079.5 772.4M1084.1 741.0L1084.9 734.7 1085.7 729.2 1086.4 723.6 1087.2 718.0 1087.9 712.4 1088.4 709.3M1092.6 677.8L1093.2 673.0 1094.0 667.4 1094.7 661.8 1095.5 656.3 1096.2 650.9 1096.9 646.1M1101.4 614.7L1102.2 609.7 1103.0 604.9 1103.7 600.3 1104.5 595.8 1105.2 591.4 1106.0 587.2 1106.7 583.1M1113.9 552.3L1115.0 549.2 1115.7 547.4 1116.5 545.7 1117.2 544.3 1118.7 542.2 1120.2 541.1 1121.8 541.2 1123.2 542.6 1124.8 545.2 1125.5 547.0 1126.2 549.1 1127.0 551.5 1127.8 554.1 1128.4 556.7M1134.5 588.1L1135.2 592.7 1136.0 597.6 1136.8 602.6 1137.5 607.7 1138.2 612.9 1139.0 618.2 1139.2 619.5M1143.4 651.0L1144.2 657.3 1145.0 663.0 1145.8 668.7 1146.5 674.4 1147.2 680.1 1147.6 682.7M1151.9 714.1L1152.5 718.3 1153.2 723.4 1154.0 728.4 1154.8 733.3 1155.5 738.0 1156.2 742.5 1156.8 745.5M1163.7 776.7L1164.5 779.0 1165.2 780.8 1166.0 782.3 1167.5 784.3 1169.0 785.0 1170.5 784.1 1172.0 781.7 1172.8 779.9 1173.5 777.7 1174.2 775.2 1175.0 772.4 1175.8 769.3 1176.5 765.9 1176.6 765.5M1182.0 734.2L1182.5 731.2 1183.2 726.2 1184.0 721.1 1184.8 715.9 1185.5 710.6 1186.2 705.3 1186.6 702.5M1191.2 671.1L1191.5 668.8 1192.2 663.9 1193.0 659.1 1193.8 654.4 1194.5 649.9 1195.2 645.7 1196.0 641.6 1196.3 639.8M1207.4 619.3L1208.1 621.8 1208.8 625.5 1209.6 629.8 1210.3 634.7 1211.1 640.3 1211.9 646.3 1212.4 650.7M1215.6 682.5L1216.4 691.1 1217.2 699.5 1218.0 708.1 1218.5 714.1M1221.3 745.7L1221.8 751.5 1222.6 759.9 1223.3 768.1 1224.1 776.1 1224.2 777.6M1227.7 809.2L1227.9 810.7 1228.7 816.3 1229.4 821.2 1230.2 825.5 1230.9 829.2 1231.7 832.1 1232.5 834.2 1233.2 835.5 1234.8 835.8 1236.3 834.6 1236.9 833.8M1245.6 803.1L1246.1 800.7 1246.9 796.6 1247.6 792.3 1248.4 787.8 1249.1 783.2 1249.9 778.4 1250.6 773.5 1250.9 771.8M1255.4 740.4L1255.9 735.9 1256.7 730.2 1257.5 724.4 1258.2 718.6 1259.0 712.7 1259.5 708.6M1263.5 677.2L1264.3 671.2 1265.0 665.3 1265.8 659.4 1266.5 653.6 1267.3 647.8 1267.6 645.7M1271.9 614.0L1272.6 609.5 1273.4 604.5 1274.1 599.6 1274.9 594.8 1275.6 590.2 1276.4 585.7 1276.9 582.6M1283.9 551.7L1284.7 549.4 1285.5 547.5 1286.2 545.8 1287.0 544.5 1288.5 542.6 1290.0 542.0 1291.5 542.4 1293.0 543.5 1294.5 545.4 1296.0 547.9 1296.8 549.5 1297.5 551.1 1298.2 552.9 1299.0 554.9 1299.8 557.0 1300.4 558.9M1308.5 590.4L1309.5 595.1 1310.2 598.7 1311.0 602.4 1311.8 606.1 1312.5 609.9 1313.2 613.8 1314.0 617.7 1314.8 621.6 1314.9 622.5M1320.8 654.4L1321.5 658.5 1322.2 662.7 1323.0 666.8 1323.8 671.0 1324.5 675.1 1325.2 679.2 1326.0 683.3 1326.6 686.7M1332.9 718.8L1333.5 721.9 1334.2 725.4 1335.0 728.8 1335.8 732.2 1336.5 735.4 1337.2 738.6 1338.0 741.7 1338.8 744.6 1339.5 747.5 1340.2 750.2 1340.3 750.4M1356.8 773.6L1358.3 772.4 1359.8 770.9 1361.3 769.1 1362.8 767.2 1364.3 765.0 1365.9 762.7 1367.4 760.3 1368.9 757.9 1370.4 755.5 1371.9 753.2 1373.4 750.9 1374.9 748.8 1376.1 747.3M1394.1 761.6L1394.7 763.4 1395.5 765.9 1396.2 768.4 1397.0 771.0 1397.8 773.6 1398.5 776.1 1399.3 778.6 1400.1 781.0 1400.8 783.4 1401.6 785.7 1402.4 787.9 1403.1 790.0 1403.9 791.9 1404.2 792.7M1416.3 778.5L1416.8 775.9 1417.5 770.6 1418.2 764.9 1419.0 758.7 1419.8 752.2 1420.4 746.1M1423.6 713.5L1424.2 705.5 1425.0 696.7 1425.8 687.7 1426.3 681.1M1428.8 648.4L1429.5 639.8 1430.2 629.8 1431.0 619.7 1431.3 616.0M1433.7 583.3L1434.0 579.1 1434.8 568.9 1435.5 558.8 1436.1 550.7M1438.6 518.3L1439.2 509.5 1440.0 500.1 1440.8 490.8 1441.2 485.6M1444.0 453.3L1444.5 448.2 1445.2 440.6 1446.0 433.3 1446.8 426.3 1447.4 420.7M1452.3 388.3L1452.8 386.3 1453.5 383.5 1454.2 381.4 1455.0 379.8 1456.5 378.5 1458.0 379.9 1458.8 381.6 1459.5 383.9 1460.3 386.8 1461.0 390.3 1461.8 394.4 1462.4 398.2M1466.3 429.9L1467.1 437.6 1467.9 445.5 1468.6 453.9 1469.3 461.5M1471.8 493.4L1472.4 500.9 1473.2 511.1 1473.9 521.6 1474.2 525.1M1476.4 557.0L1476.9 565.8 1477.7 577.2 1478.5 588.7M1480.5 620.6L1480.7 624.0 1481.5 635.9 1482.2 647.8 1482.5 652.3M1484.6 684.3L1485.3 695.0 1486.0 706.7 1486.6 715.9M1488.8 747.9L1489.1 752.2 1489.8 763.1 1490.6 773.9 1491.0 779.5M1493.4 811.5L1493.6 814.4 1494.4 823.8 1495.1 832.9 1495.9 841.6 1496.0 843.1M1499.1 874.7L1499.7 879.3 1500.4 885.5 1501.2 891.2 1501.9 896.4 1502.7 901.1 1503.5 905.2 1503.7 906.4M1514.7 899.6L1515.6 894.9 1516.3 890.6 1517.1 886.0 1517.9 881.1 1518.6 875.9 1519.4 870.5 1519.5 869.7M1523.2 839.4L1523.9 833.5 1524.7 826.7 1525.4 819.8 1526.2 812.8 1526.6 809.4M1529.8 779.1L1530.0 777.0 1530.8 769.8 1531.5 762.5 1532.3 755.4 1533.0 749.0M1536.3 718.6L1536.8 713.9 1537.6 707.5 1538.3 701.2 1539.1 695.1 1539.9 689.2 1539.9 688.6M1544.5 658.5L1545.2 655.1 1545.9 651.5 1546.7 648.3 1547.4 645.4 1548.2 642.9 1549.0 640.8 1549.7 639.2 1551.2 637.2 1552.8 637.2 1554.3 638.9 1555.1 640.2 1555.9 641.7 1556.1 642.3M1570.6 655.8L1571.2 654.1 1572.0 651.8 1572.8 649.2 1573.5 646.4 1574.2 643.4 1575.0 640.2 1575.8 636.7 1576.5 633.1 1577.2 629.3 1577.8 626.5M1582.9 596.4L1583.2 594.0 1584.0 589.2 1584.8 584.3 1585.5 579.4 1586.2 574.5 1587.0 569.5 1587.5 566.5M1592.1 536.4L1593.0 530.9 1593.8 526.4 1594.5 522.1 1595.2 517.8 1596.0 513.7 1596.8 509.7 1597.4 506.6M1606.5 477.7L1608.0 477.0 1609.5 479.0 1610.3 481.3 1611.0 484.6 1611.8 488.7 1612.6 493.6 1613.3 499.3 1614.1 505.7 1614.1 505.7M1617.1 537.3L1617.9 547.1 1618.6 557.0 1619.4 567.3 1619.5 568.8M1621.7 600.4L1622.4 612.2 1623.2 624.1 1623.7 631.9M1625.6 663.6L1626.2 673.5 1627.0 686.0 1627.5 695.0M1629.5 726.7L1630.0 735.7 1630.8 747.9 1631.5 758.1M1633.6 789.8L1633.8 794.0 1634.6 804.7 1635.4 815.0 1635.8 821.2M1638.5 852.9L1639.2 859.2 1639.9 866.3 1640.7 872.7 1641.4 878.4 1642.2 883.3 1642.4 884.1M1652.2 875.7L1652.8 872.4 1653.5 867.6 1654.3 862.3 1655.1 856.6 1655.8 850.6 1656.6 844.3 1656.7 843.3M1660.2 810.4L1660.3 808.7 1661.1 801.0 1661.8 793.1 1662.6 785.1 1663.3 777.6M1666.3 745.0L1667.1 735.5 1667.9 727.3 1668.6 719.0 1669.3 712.1M1672.5 679.3L1673.2 672.3 1673.9 665.2 1674.7 658.3 1675.4 651.7 1676.0 646.7M1680.9 614.1L1681.5 611.5 1682.2 608.4 1683.0 605.8 1683.7 603.7 1684.5 602.2 1686.0 601.0 1687.5 601.7 1689.0 603.9 1689.8 605.4 1690.5 607.2 1691.2 609.3 1692.0 611.6 1692.8 614.1 1693.5 616.8 1693.6 617.3M1700.8 649.3L1701.8 653.4 1702.5 656.8 1703.2 660.0 1704.0 663.2 1704.8 666.3 1705.5 669.2 1706.2 671.9 1707.0 674.4 1707.8 676.7 1708.5 678.8 1709.2 680.6 1709.5 681.1M1723.9 660.6L1724.4 658.4 1725.2 655.4 1726.0 652.4 1726.7 649.3 1727.5 646.1 1728.2 643.0 1729.0 639.9 1729.8 636.7 1730.5 633.6 1731.3 630.6 1731.8 628.8M1745.2 602.1L1746.5 604.2 1747.2 605.9 1748.0 607.9 1748.8 610.3 1749.5 613.0 1750.2 616.0 1751.0 619.2 1751.8 622.7 1752.5 626.5 1753.2 630.5 1753.8 633.7M1758.9 666.1L1759.2 668.9 1760.0 674.3 1760.8 679.7 1761.5 685.2 1762.2 690.8 1763.0 696.4 1763.3 698.8M1767.7 731.5L1768.2 735.1 1769.0 740.4 1769.8 745.6 1770.5 750.6 1771.2 755.5 1772.0 760.3 1772.6 763.9M1779.5 796.1L1780.2 798.1 1781.0 799.8 1781.8 801.2 1783.2 802.8 1784.8 802.9 1786.3 801.8 1787.8 799.9 1788.5 798.5 1789.3 796.9 1790.0 795.1 1790.8 793.1 1791.6 790.9 1792.3 788.5 1793.1 785.9 1793.8 783.1 1794.2 781.7M1800.8 749.6L1801.4 746.0 1802.1 741.6 1802.9 737.0 1803.7 732.3 1804.4 727.5 1805.2 722.6 1805.9 717.6 1806.0 717.0M1810.7 684.3L1811.2 680.6 1812.0 675.1 1812.7 669.5 1813.5 664.0 1814.2 658.4 1815.0 652.8 1815.1 651.9M1819.5 619.2L1820.3 613.5 1821.0 607.9 1821.8 602.4 1822.5 597.0 1823.3 591.5 1824.0 586.5M1828.8 554.1L1829.3 550.7 1830.1 546.0 1830.9 541.4 1831.6 537.0 1832.4 532.6 1833.1 528.4 1833.9 524.3 1834.4 521.6M1842.3 489.6L1843.0 487.9 1843.7 486.1 1844.5 484.5 1845.2 483.1 1846.7 481.2 1848.2 480.1 1849.8 480.2 1851.3 481.7 1852.8 484.6 1853.5 486.6 1854.3 488.9 1855.0 491.5 1855.8 494.4 1856.5 497.6 1856.6 497.9M1862.0 529.4L1862.6 533.0 1863.3 538.5 1864.1 544.2 1864.5 547.6"/><path stroke="#4DBEEE" stroke-dasharray="32 8.5 15.5 8.5" d="M178.0 681.0L178.0 681.0 179.5 681.0 181.0 681.0 182.5 681.0 184.0 681.0 185.5 681.0 187.0 681.0 188.5 681.0 190.0 681.0 191.5 681.0 193.0 681.1 194.5 681.1 196.0 681.2 197.5 681.3 199.0 681.5 200.5 681.6 202.0 681.8 203.5 682.0 205.0 682.2 206.5 682.5 208.0 682.7 209.5 683.0 211.0 683.3 212.5 683.5 214.0 683.8 215.5 684.1 217.0 684.4 218.5 684.7 220.0 685.0 221.5 685.3 223.0 685.6 224.5 685.9 226.0 686.2 227.5 686.5 229.0 686.7 230.5 687.0 232.0 687.3 233.5 687.5 235.0 687.8 236.5 688.0 238.0 688.2 239.5 688.4 241.0 688.5 242.5 688.7 244.0 688.8 245.5 688.9 247.0 688.9 248.5 689.0 250.0 689.0 251.5 689.0 253.0 688.9 254.5 688.8 256.1 688.7 257.6 688.6 259.1 688.4 260.6 688.2 262.1 688.0 263.6 687.8 265.1 687.5 266.7 687.2 268.2 686.9 269.7 686.6 271.2 686.2 272.7 685.9 274.2 685.5 275.7 685.1 277.3 684.7 278.8 684.3 280.3 683.9 281.8 683.5 283.3 683.0 284.8 682.6 286.3 682.2 287.9 681.8 289.4 681.3 290.9 680.9 292.4 680.5 293.9 680.0 295.4 679.6 296.9 679.2 298.4 678.8 300.0 678.4 301.5 678.0 303.0 677.6 304.5 677.3 306.0 676.9 307.5 676.6 309.0 676.3 310.6 676.0 312.1 675.7 313.6 675.5 315.1 675.3 316.6 675.1 318.1 674.9 319.6 674.8 321.2 674.7 322.7 674.6 324.2 674.5 325.7 674.5 327.2 674.5 328.8 674.6 330.3 674.7 331.8 674.9 333.4 675.1 334.9 675.4 336.4 675.7 337.9 676.0 339.5 676.4 341.0 676.8 342.5 677.3 344.1 677.7 345.6 678.2 347.1 678.7 348.7 679.2 350.2 679.8 351.7 680.3 353.3 680.9 354.8 681.4 356.3 682.0 357.9 682.6 359.4 683.2 360.9 683.8 362.4 684.3 364.0 684.9 365.5 685.4 367.0 686.0 368.6 686.5 370.1 687.0 371.6 687.5 373.2 687.9 374.7 688.4 376.2 688.8 377.8 689.2 379.3 689.5 380.8 689.8 382.3 690.1 383.9 690.3 385.4 690.5 386.9 690.6 388.5 690.7 390.0 690.7 391.5 690.7 393.0 690.6 394.5 690.5 396.0 690.3 397.6 690.1 399.1 689.8 400.6 689.5 402.1 689.1 403.6 688.8 405.1 688.3 406.6 687.9 408.1 687.4 409.7 686.9 411.2 686.4 412.7 685.9 414.2 685.3 415.7 684.8 417.2 684.2 418.7 683.6 420.2 683.0 421.7 682.4 423.3 681.8 424.8 681.2 426.3 680.6 427.8 680.0 429.3 679.4 430.8 678.9 432.3 678.3 433.8 677.8 435.3 677.3 436.9 676.8 438.4 676.3 439.9 675.9 441.4 675.4 442.9 675.1 444.4 674.7 445.9 674.4 447.4 674.1 449.0 673.9 450.5 673.7 452.0 673.6 453.5 673.5 455.0 673.5 456.5 673.5 458.0 673.6 459.5 673.7 461.0 673.8 462.5 674.0 464.0 674.2 465.5 674.4 467.0 674.7 468.5 675.0 470.0 675.3 471.5 675.6 473.0 676.0 474.5 676.3 476.0 676.7 477.5 677.1 479.0 677.5 480.5 678.0 482.0 678.4 483.5 678.8 485.0 679.3 486.5 679.7 488.0 680.2 489.5 680.6 491.0 681.1 492.5 681.5 494.0 681.9 495.5 682.4 497.0 682.8 498.5 683.2 500.0 683.6 501.5 683.9 503.0 684.3 504.5 684.6 506.0 684.9 507.5 685.2 509.0 685.5 510.5 685.7 512.0 685.9 513.5 686.1 515.0 686.2 516.5 686.3 518.0 686.4 519.5 686.4 521.0 686.4 522.5 686.3 524.1 686.3 525.6 686.2 527.1 686.1 528.6 685.9 530.2 685.8 531.7 685.6 533.2 685.4 534.7 685.2 536.3 685.0 537.8 684.8 539.3 684.5 540.8 684.3 542.3 684.0 543.9 683.7 545.4 683.4 546.9 683.1 548.4 682.8 550.0 682.5 551.5 682.2 553.0 682.0 554.5 681.7 556.1 681.4 557.6 681.1 559.1 680.8 560.6 680.5 562.2 680.2 563.7 679.9 565.2 679.7 566.7 679.4 568.2 679.2 569.8 679.0 571.3 678.8 572.8 678.6 574.3 678.4 575.9 678.3 577.4 678.1 578.9 678.0 580.4 677.9 582.0 677.9 583.5 677.8 585.0 677.8 586.5 677.8 588.0 677.9 589.5 677.9 591.0 678.0 592.5 678.1 594.0 678.2 595.5 678.4 597.0 678.5 598.5 678.7 600.0 678.9 601.5 679.1 603.0 679.4 604.5 679.6 606.0 679.8 607.5 680.1 609.0 680.4 610.5 680.6 612.0 680.9 613.5 681.2 615.0 681.5 616.5 681.8 618.1 682.0 619.6 682.3 621.1 682.6 622.6 682.9 624.1 683.2 625.6 683.4 627.1 683.7 628.6 684.0 630.1 684.2 631.6 684.4 633.1 684.7 634.6 684.9 636.1 685.1 637.6 685.3 639.1 685.4 640.6 685.6 642.1 685.7 643.6 685.8 645.1 685.9 646.6 685.9 648.1 686.0 649.6 686.0 651.1 686.0 652.6 686.0 654.1 686.0 655.7 685.9 657.2 685.9 658.7 685.8 660.2 685.8 661.7 685.7 663.2 685.6 664.7 685.6 666.2 685.5 667.8 685.4 669.3 685.3 670.8 685.2 672.3 685.1 673.8 684.9 675.3 684.8 676.8 684.7 678.3 684.6 679.9 684.4 681.4 684.3 682.9 684.1 684.4 684.0 685.9 683.8 687.4 683.7 688.9 683.5 690.4 683.3 692.0 683.2 693.5 683.0 695.0 682.8 696.5 682.7 698.0 682.5 699.5 682.3 701.0 682.2 702.5 682.0 704.1 681.8 705.6 681.6 707.1 681.5 708.6 681.3 710.1 681.1 711.6 681.0 713.1 680.8 714.6 680.6 716.2 680.5 717.7 680.3 719.2 680.1 720.7 680.0 722.2 679.8 723.7 679.7 725.2 679.5 726.7 679.4 728.3 679.2 729.8 679.1 731.3 679.0 732.8 678.9 734.3 678.7 735.8 678.6 737.3 678.5 738.8 678.4 740.4 678.3 741.9 678.2 743.4 678.2 744.9 678.1 746.4 678.0 747.9 678.0 749.4 677.9 750.9 677.9 752.5 677.8 754.0 677.8 755.5 677.8 757.0 677.8 758.5 677.8 760.0 677.8 761.5 677.9 763.1 677.9 764.6 678.0 766.1 678.1 767.6 678.2 769.1 678.3 770.6 678.4 772.2 678.5 773.7 678.6 775.2 678.8 776.7 678.9 778.2 679.1 779.7 679.3 781.2 679.5 782.8 679.7 784.3 679.9 785.8 680.1 787.3 680.3 788.8 680.5 790.3 680.7 791.9 681.0 793.4 681.2 794.9 681.4 796.4 681.7 797.9 681.9 799.4 682.2 801.0 682.4 802.5 682.6 804.0 682.9 805.5 683.1 807.0 683.4 808.5 683.7 810.0 683.9 811.6 684.1 813.1 684.4 814.6 684.6 816.1 684.9 817.6 685.1 819.1 685.3 820.7 685.6 822.2 685.8 823.7 686.0 825.2 686.2 826.7 686.4 828.2 686.6 829.8 686.8 831.3 687.0 832.8 687.2 834.3 687.4 835.8 687.5 837.3 687.7 838.8 687.8 840.4 687.9 841.9 688.0 843.4 688.1 844.9 688.2 846.4 688.3 847.9 688.4 849.5 688.4 851.0 688.5 852.5 688.5 854.0 688.5 855.5 688.5 857.0 688.4 858.5 688.3 860.0 688.2 861.5 688.0 863.0 687.8 864.5 687.6 866.0 687.3 867.5 687.0 869.0 686.7 870.6 686.4 872.1 686.0 873.6 685.7 875.1 685.3 876.6 684.9 878.1 684.5 879.6 684.0 881.1 683.6 882.6 683.2 884.1 682.7 885.6 682.3 887.1 681.8 888.6 681.4 890.1 680.9 891.6 680.5 893.1 680.1 894.6 679.6 896.1 679.2 897.6 678.8 899.1 678.4 900.6 678.1 902.1 677.7 903.7 677.4 905.2 677.1 906.7 676.8 908.2 676.5 909.7 676.3 911.2 676.1 912.7 675.9 914.2 675.8 915.7 675.7 917.2 675.6 918.7 675.6 920.2 675.6 921.8 675.7 923.3 675.8 924.8 676.0 926.4 676.2 927.9 676.4 929.5 676.7 931.0 677.0 932.5 677.4 934.1 677.7 935.6 678.1 937.1 678.5 938.7 679.0 940.2 679.4 941.8 679.9 943.3 680.3 944.8 680.8 946.4 681.2 947.9 681.7 949.4 682.1 951.0 682.6 952.5 683.0 954.1 683.5 955.6 683.9 957.1 684.3 958.7 684.6 960.2 685.0 961.7 685.3 963.3 685.6 964.8 685.8 966.4 686.0 967.9 686.2 969.4 686.3 971.0 686.4 972.5 686.4 974.0 686.4 975.5 686.4 977.1 686.3 978.6 686.3 980.1 686.2 981.6 686.1 983.1 686.0 984.7 685.8 986.2 685.7 987.7 685.6 989.2 685.4 990.7 685.2 992.3 685.0 993.8 684.8 995.3 684.6 996.8 684.4 998.3 684.2 999.9 684.0 1001.4 683.8 1002.9 683.5 1004.4 683.3 1005.9 683.1 1007.5 682.8 1009.0 682.6 1010.5 682.3 1012.0 682.1 1013.5 681.8 1015.0 681.6 1016.6 681.3 1018.1 681.1 1019.6 680.9 1021.1 680.6 1022.6 680.4 1024.2 680.2 1025.7 680.0 1027.2 679.8 1028.7 679.6 1030.2 679.4 1031.8 679.2 1033.3 679.0 1034.8 678.8 1036.3 678.7 1037.8 678.6 1039.4 678.4 1040.9 678.3 1042.4 678.2 1043.9 678.1 1045.4 678.1 1047.0 678.0 1048.5 678.0 1050.0 678.0 1051.5 678.0 1053.0 678.0 1054.5 678.0 1056.1 678.1 1057.6 678.1 1059.1 678.2 1060.6 678.3 1062.1 678.3 1063.6 678.4 1065.2 678.5 1066.7 678.6 1068.2 678.7 1069.7 678.8 1071.2 678.9 1072.7 679.1 1074.2 679.2 1075.8 679.3 1077.3 679.5 1078.8 679.6 1080.3 679.8 1081.8 679.9 1083.3 680.1 1084.8 680.2 1086.4 680.4 1087.9 680.6 1089.4 680.7 1090.9 680.9 1092.4 681.1 1093.9 681.3 1095.5 681.5 1097.0 681.6 1098.5 681.8 1100.0 682.0 1101.5 682.2 1103.0 682.4 1104.5 682.5 1106.1 682.7 1107.6 682.9 1109.1 683.1 1110.6 683.3 1112.1 683.4 1113.6 683.6 1115.2 683.8 1116.7 683.9 1118.2 684.1 1119.7 684.2 1121.2 684.4 1122.7 684.5 1124.2 684.7 1125.8 684.8 1127.3 684.9 1128.8 685.1 1130.3 685.2 1131.8 685.3 1133.3 685.4 1134.8 685.5 1136.4 685.6 1137.9 685.7 1139.4 685.7 1140.9 685.8 1142.4 685.9 1143.9 685.9 1145.5 686.0 1147.0 686.0 1148.5 686.0 1150.0 686.0 1151.5 686.0 1153.0 686.0 1154.5 686.0 1156.1 685.9 1157.6 685.9 1159.1 685.8 1160.6 685.7 1162.1 685.7 1163.6 685.6 1165.2 685.5 1166.7 685.4 1168.2 685.3 1169.7 685.2 1171.2 685.1 1172.7 684.9 1174.2 684.8 1175.8 684.7 1177.3 684.5 1178.8 684.4 1180.3 684.2 1181.8 684.1 1183.3 683.9 1184.8 683.8 1186.4 683.6 1187.9 683.4 1189.4 683.3 1190.9 683.1 1192.4 682.9 1193.9 682.7 1195.5 682.5 1197.0 682.4 1198.5 682.2 1200.0 682.0 1201.5 681.8 1203.0 681.6 1204.5 681.5 1206.1 681.3 1207.6 681.1 1209.1 680.9 1210.6 680.7 1212.1 680.6 1213.6 680.4 1215.2 680.2 1216.7 680.1 1218.2 679.9 1219.7 679.8 1221.2 679.6 1222.7 679.5 1224.2 679.3 1225.8 679.2 1227.3 679.1 1228.8 678.9 1230.3 678.8 1231.8 678.7 1233.3 678.6 1234.8 678.5 1236.4 678.4 1237.9 678.3 1239.4 678.3 1240.9 678.2 1242.4 678.1 1243.9 678.1 1245.5 678.0 1247.0 678.0 1248.5 678.0 1250.0 678.0 1251.5 678.0 1253.0 678.0 1254.5 678.0 1256.1 678.1 1257.6 678.1 1259.1 678.2 1260.6 678.3 1262.1 678.3 1263.6 678.4 1265.2 678.5 1266.7 678.6 1268.2 678.7 1269.7 678.8 1271.2 678.9 1272.7 679.1 1274.2 679.2 1275.8 679.3 1277.3 679.5 1278.8 679.6 1280.3 679.8 1281.8 679.9 1283.3 680.1 1284.8 680.2 1286.4 680.4 1287.9 680.6 1289.4 680.7 1290.9 680.9 1292.4 681.1 1293.9 681.3 1295.5 681.5 1297.0 681.6 1298.5 681.8 1300.0 682.0 1301.5 682.2 1303.0 682.4 1304.5 682.5 1306.1 682.7 1307.6 682.9 1309.1 683.1 1310.6 683.3 1312.1 683.4 1313.6 683.6 1315.2 683.8 1316.7 683.9 1318.2 684.1 1319.7 684.2 1321.2 684.4 1322.7 684.5 1324.2 684.7 1325.8 684.8 1327.3 684.9 1328.8 685.1 1330.3 685.2 1331.8 685.3 1333.3 685.4 1334.8 685.5 1336.4 685.6 1337.9 685.7 1339.4 685.7 1340.9 685.8 1342.4 685.9 1343.9 685.9 1345.5 686.0 1347.0 686.0 1348.5 686.0 1350.0 686.0 1351.5 686.0 1353.0 686.0 1354.5 685.9 1356.0 685.9 1357.5 685.8 1359.1 685.8 1360.6 685.7 1362.1 685.6 1363.6 685.5 1365.1 685.4 1366.6 685.3 1368.1 685.2 1369.6 685.1 1371.1 685.0 1372.6 684.8 1374.2 684.7 1375.7 684.5 1377.2 684.4 1378.7 684.2 1380.2 684.1 1381.7 683.9 1383.2 683.8 1384.7 683.6 1386.2 683.4 1387.7 683.3 1389.2 683.1 1390.8 682.9 1392.3 682.7 1393.8 682.6 1395.3 682.4 1396.8 682.2 1398.3 682.1 1399.8 681.9 1401.3 681.8 1402.8 681.6 1404.3 681.5 1405.8 681.3 1407.4 681.2 1408.9 681.0 1410.4 680.9 1411.9 680.8 1413.4 680.7 1414.9 680.6 1416.4 680.5 1417.9 680.4 1419.4 680.3 1420.9 680.2 1422.5 680.2 1424.0 680.1 1425.5 680.1 1427.0 680.0 1428.5 680.0 1430.0 680.0 1431.5 680.0 1433.0 680.0 1434.5 680.1 1436.0 680.1 1437.5 680.2 1439.0 680.3 1440.6 680.4 1442.1 680.5 1443.6 680.7 1445.1 680.8 1446.6 681.0 1448.1 681.1 1449.6 681.3 1451.1 681.5 1452.6 681.7 1454.1 681.9 1455.6 682.1 1457.1 682.4 1458.7 682.6 1460.2 682.9 1461.7 683.1 1463.2 683.4 1464.7 683.6 1466.2 683.9 1467.7 684.2 1469.2 684.4 1470.7 684.7 1472.2 685.0 1473.7 685.3 1475.2 685.6 1476.7 685.9 1478.3 686.1 1479.8 686.4 1481.3 686.7 1482.8 687.0 1484.3 687.3 1485.8 687.6 1487.3 687.8 1488.8 688.1 1490.3 688.4 1491.8 688.6 1493.3 688.9 1494.8 689.1 1496.3 689.4 1497.9 689.6 1499.4 689.9 1500.9 690.1 1502.4 690.3 1503.9 690.5 1505.4 690.7 1506.9 690.9 1508.4 691.0 1509.9 691.2 1511.4 691.3 1512.9 691.5 1514.4 691.6 1516.0 691.7 1517.5 691.8 1519.0 691.9 1520.5 691.9 1522.0 692.0 1523.5 692.0 1525.0 692.0 1526.5 692.0 1528.0 691.9 1529.5 691.8 1531.0 691.7 1532.5 691.5 1534.0 691.3 1535.5 691.0 1537.0 690.8 1538.5 690.5 1540.0 690.1 1541.5 689.8 1543.0 689.4 1544.5 689.0 1546.0 688.6 1547.5 688.2 1549.0 687.8 1550.5 687.3 1552.0 686.9 1553.5 686.4 1555.0 686.0 1556.5 685.6 1558.0 685.1 1559.5 684.7 1561.0 684.2 1562.5 683.8 1564.0 683.4 1565.5 683.0 1567.0 682.6 1568.5 682.2 1570.0 681.9 1571.5 681.5 1573.0 681.2 1574.5 681.0 1576.0 680.7 1577.5 680.5 1579.0 680.3 1580.5 680.2 1582.0 680.1 1583.5 680.0 1585.0 680.0 1586.5 680.0 1588.0 680.0 1589.5 680.1 1591.0 680.1 1592.6 680.1 1594.1 680.2 1595.6 680.3 1597.1 680.4 1598.6 680.5 1600.1 680.5 1601.6 680.7 1603.1 680.8 1604.7 680.9 1606.2 681.0 1607.7 681.1 1609.2 681.2 1610.7 681.4 1612.2 681.5 1613.7 681.7 1615.2 681.8 1616.7 681.9 1618.3 682.1 1619.8 682.2 1621.3 682.3 1622.8 682.5 1624.3 682.6 1625.8 682.8 1627.3 682.9 1628.8 683.0 1630.3 683.1 1631.9 683.2 1633.4 683.3 1634.9 683.5 1636.4 683.5 1637.9 683.6 1639.4 683.7 1640.9 683.8 1642.4 683.9 1644.0 683.9 1645.5 683.9 1647.0 684.0 1648.5 684.0 1650.0 684.0 1651.5 684.0 1653.0 684.0 1654.5 684.0 1656.1 683.9 1657.6 683.9 1659.1 683.9 1660.6 683.8 1662.1 683.8 1663.6 683.7 1665.2 683.6 1666.7 683.6 1668.2 683.5 1669.7 683.4 1671.2 683.3 1672.7 683.2 1674.2 683.1 1675.8 683.0 1677.3 682.9 1678.8 682.8 1680.3 682.7 1681.8 682.6 1683.3 682.4 1684.8 682.3 1686.4 682.2 1687.9 682.1 1689.4 681.9 1690.9 681.8 1692.4 681.7 1693.9 681.5 1695.5 681.4 1697.0 681.3 1698.5 681.1 1700.0 681.0 1701.5 680.9 1703.0 680.7 1704.5 680.6 1706.1 680.5 1707.6 680.3 1709.1 680.2 1710.6 680.1 1712.1 679.9 1713.6 679.8 1715.2 679.7 1716.7 679.6 1718.2 679.4 1719.7 679.3 1721.2 679.2 1722.7 679.1 1724.2 679.0 1725.8 678.9 1727.3 678.8 1728.8 678.7 1730.3 678.6 1731.8 678.5 1733.3 678.4 1734.8 678.4 1736.4 678.3 1737.9 678.2 1739.4 678.2 1740.9 678.1 1742.4 678.1 1743.9 678.1 1745.5 678.0 1747.0 678.0 1748.5 678.0 1750.0 678.0 1751.5 678.0 1753.0 678.0 1754.5 678.0 1756.0 678.0 1757.5 678.0 1759.0 678.0 1760.5 678.1 1762.0 678.1 1763.5 678.1 1765.0 678.1 1766.5 678.2 1768.0 678.2 1769.5 678.2 1771.0 678.2 1772.5 678.3 1774.0 678.3 1775.5 678.3 1777.0 678.4 1778.5 678.4 1780.0 678.5 1781.5 678.5 1783.0 678.6 1784.5 678.6 1786.0 678.6 1787.5 678.7 1789.0 678.7 1790.5 678.8 1792.0 678.8 1793.5 678.9 1795.0 678.9 1796.5 679.0 1798.0 679.1 1799.5 679.1 1801.0 679.2 1802.5 679.2 1804.0 679.3 1805.5 679.3 1807.0 679.4 1808.5 679.4 1810.0 679.5 1811.5 679.6 1813.0 679.6 1814.5 679.7 1816.0 679.7 1817.5 679.8 1819.0 679.8 1820.5 679.9 1822.0 679.9 1823.5 680.0 1825.0 680.1 1826.5 680.1 1828.0 680.2 1829.5 680.2 1831.0 680.3 1832.5 680.3 1834.0 680.4 1835.5 680.4 1837.0 680.4 1838.5 680.5 1840.0 680.5 1841.5 680.6 1843.0 680.6 1844.5 680.7 1846.0 680.7 1847.5 680.7 1849.0 680.8 1850.5 680.8 1852.0 680.8 1853.5 680.8 1855.0 680.9 1856.5 680.9 1858.0 680.9 1859.5 680.9 1861.0 681.0 1862.5 681.0 1864.0 681.0 1864.5 681.0"/></g><g fill="none" stroke-width="7"><path stroke="#0072BD" d="M483.5 214.0H733.6"/><path stroke="#D95319" d="M483.5 297.2H516.6M548.3 297.2H580.7M612.4 297.2H649.8M680.8 297.2H713.2"/><path stroke="#EDB120" d="M942.0 214.0H974.4M982.9 214.0H999.0M1006.8 214.0H1038.5M1047.0 214.0H1062.5M1071.0 214.0H1102.7M1111.0 214.0H1126.6M1135.0 214.0H1166.8M1175.2 214.0H1190.7"/><path stroke="#7E2F8E" d="M942.0 297.2H1192.2"/><path stroke="#77AC30" d="M1425.6 214.0H1457.3M1489.7 214.0H1521.4M1534.8 214.0H1555.2M1587.0 214.0H1618.7M1651.0 214.0H1676.5"/><path stroke="#4DBEEE" d="M1425.6 297.2H1457.3M1466.4 297.2H1481.2M1489.7 297.2H1521.4M1529.9 297.2H1554.5M1563.0 297.2H1578.5M1587.0 297.2H1618.7M1627.0 297.2H1642.6M1651.0 297.2H1676.5"/></g><g font-family="Liberation Serif, serif" fill="#000"><text x="757.7" y="230.2" font-size="71" font-style="italic">F</text><text x="797.0" y="240.0" font-size="47"><tspan font-style="italic" font-size="43" letter-spacing="3.5">exc</tspan>1</text><text x="757.7" y="313.0" font-size="71" font-style="italic">F</text><text x="797.0" y="323.0" font-size="47"><tspan font-style="italic" font-size="43" letter-spacing="3.5">exc</tspan>2</text><text x="1215.2" y="229.8" font-size="71" font-style="italic">F</text><text x="1254.5" y="240.0" font-size="47"><tspan font-style="italic" font-size="43" letter-spacing="3.5">rad</tspan>11</text><text x="1215.2" y="312.7" font-size="71" font-style="italic">F</text><text x="1254.5" y="323.0" font-size="47"><tspan font-style="italic" font-size="43" letter-spacing="3.5">rad</tspan>12</text><text x="1699.4" y="230.2" font-size="71" font-style="italic">F</text><text x="1737.8" y="240.5" font-size="47"><tspan font-style="italic" font-size="43" letter-spacing="0.0">b</tspan>1</text><text x="1699.4" y="313.0" font-size="71" font-style="italic">F</text><text x="1737.8" y="323.0" font-size="47"><tspan font-style="italic" font-size="43" letter-spacing="0.0">b</tspan>2</text></g><g font-family="Liberation Serif, serif" font-size="68" fill="#262626"><text x="159.8" y="1336">0</text><text x="423.5" y="1336">20</text><text x="705.3" y="1336">40</text><text x="987.9" y="1336">60</text><text x="1269.2" y="1336">80</text><text x="1534.7" y="1336">100</text><text x="1814.8" y="1336">120</text><text x="128.5" y="127.0">4</text><text x="128.6" y="272.5">3</text><text x="129.0" y="416.5">2</text><text x="128.3" y="560.5">1</text><text x="129.2" y="704.8">0</text><text y="845.0"><tspan x="93.4" dy="2.8" font-size="75">−</tspan><tspan x="131.5" dy="-2.8">1</tspan></text><text y="994.0"><tspan x="93.4" dy="2.8" font-size="75">−</tspan><tspan x="132.3" dy="-2.8">2</tspan></text><text y="1135.6"><tspan x="93.4" dy="2.8" font-size="75">−</tspan><tspan x="131.5" dy="-2.8">3</tspan></text><text y="1277.6"><tspan x="93.4" dy="2.8" font-size="75">−</tspan><tspan x="132.5" dy="-2.8">4</tspan></text><text x="179.2" y="99.5" font-size="83">×</text><text x="227.5" y="88.6">10</text><text x="295.7" y="55.5" font-size="53.5">6</text><text x="1020" y="1410" text-anchor="middle">t (s)</text><text transform="translate(85,682) rotate(-90)" text-anchor="middle">Force (N)</text></g></svg></body></html>
